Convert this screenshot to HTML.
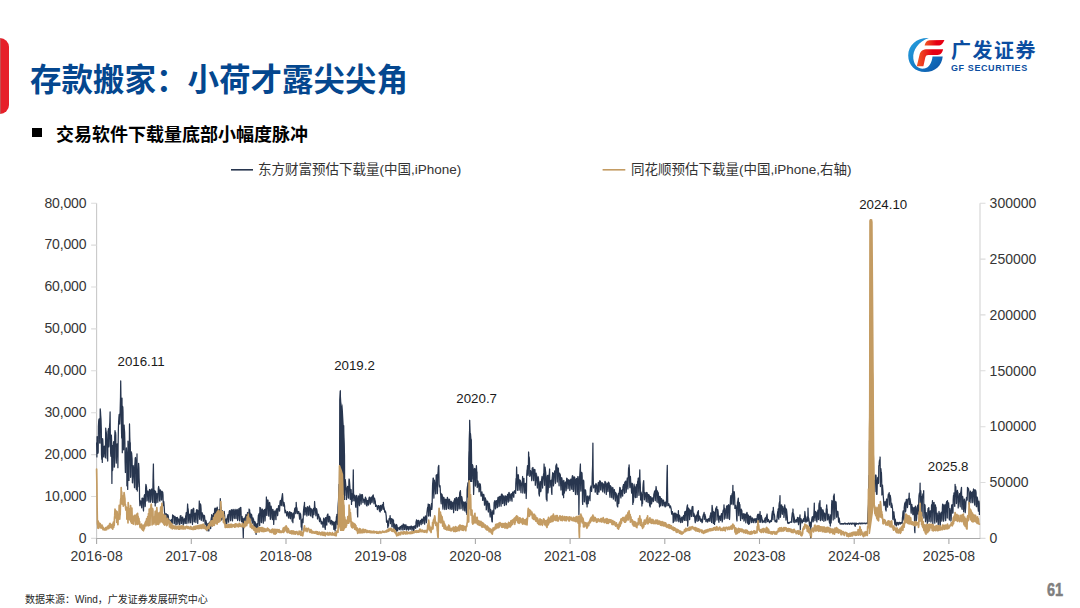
<!DOCTYPE html>
<html lang="zh"><head><meta charset="utf-8"><title>存款搬家</title>
<style>
html,body{margin:0;padding:0;background:#fff;overflow:hidden}
html{width:1080px;height:608px}
body{width:1080px;height:608px;position:relative;overflow:hidden;font-family:"Liberation Sans","Noto Sans CJK SC",sans-serif;color:#363636}
#tab{position:absolute;left:0;top:38.2px;width:8.9px;height:76.2px;background:linear-gradient(90deg,#C84E50 0,#C84E50 0.6px,#E6202A 1.2px);border-radius:0 9px 9px 0}
#bul{position:absolute;left:32.2px;top:128.2px;width:9.6px;height:9.2px;background:#000}
svg{position:absolute;left:0;top:0}
.yl,.yr,.xl,.an,.h{position:absolute;white-space:nowrap;line-height:18px;height:18px}
.yl{left:0;width:86.4px;text-align:right;font-size:14px;letter-spacing:-0.15px}
.yr{left:989.6px;font-size:14px}
.xl{top:547px;width:80px;text-align:center;font-size:14px;letter-spacing:0.15px;text-indent:0.15px}
.an{font-size:13.3px;color:#1a1a1a}
.h{font-family:"Liberation Sans","Noto Sans CJK SC",sans-serif}
#pg{position:absolute;left:1035px;width:40px;text-align:center;top:579.7px;font-size:17.5px;line-height:20px;font-weight:bold;color:#7F7F7F;-webkit-text-stroke:0.5px #7F7F7F;transform:scaleX(0.83)}
</style></head>
<body>
<div id="tab"></div>
<div class="h" style="left:30px;top:62px;font-size:31.5px;line-height:36px;height:36px;font-weight:bold;color:#04478F">存款搬家：小荷才露尖尖角</div>
<div id="bul"></div>
<div class="h" style="left:56px;top:125.5px;font-size:18px;font-weight:bold;color:#000">交易软件下载量底部小幅度脉冲</div>
<div class="h" style="left:258px;top:161px;font-size:13.5px;color:#333">东方财富预估下载量(中国,iPhone)</div>
<div class="h" style="left:631px;top:161px;font-size:13.5px;color:#333">同花顺预估下载量(中国,iPhone,右轴)</div>
<div class="h" style="left:25px;top:593px;font-size:10px;line-height:14px;height:14px;color:#262626">数据来源：Wind，广发证券发展研究中心</div>
<div class="h" style="left:951px;top:39.3px;font-size:20px;line-height:24px;height:24px;letter-spacing:1.5px;font-weight:bold;color:#0B4DA0">广发证券</div>
<svg width="1080" height="608" viewBox="0 0 1080 608">

<defs>
<linearGradient id="gb" x1="0" y1="0" x2="1" y2="1"><stop offset="0" stop-color="#2AA3E0"/><stop offset="0.55" stop-color="#1479C4"/><stop offset="1" stop-color="#0B4FA3"/></linearGradient>
<linearGradient id="gr" x1="0" y1="0" x2="1" y2="0"><stop offset="0" stop-color="#F15A24"/><stop offset="0.6" stop-color="#E60012"/><stop offset="1" stop-color="#E60012"/></linearGradient>
</defs>
<path fill="url(#gb)" d="M928.8,38 C917,37.5 908.2,45 908.2,55.5 C908.2,65.5 915.5,72 925,72 C935,72 942,65.5 942.7,56.4 L932.5,56.4 C932,62.5 929,67.5 924.5,68.6 C919,69.5 914.2,66 913.3,58.5 C912.5,50 918.5,41.5 928.8,38 Z"/>
<path fill="url(#gr)" d="M929.5,40.2 L944.4,39.9 C943,43 941.5,45.6 938,45.6 L924.6,45.6 C925,43 926.5,40.5 929.5,40.2 Z"/>
<path fill="url(#gr)" d="M927.5,49.3 L943.1,49.3 C942.3,52.5 941,55 937.5,55 L928.5,55 C926.5,55 925.8,55.8 925.3,57.5 L923.4,66.2 L916.8,66.2 L919.6,54.5 C920.5,51 923,49.3 927.5,49.3 Z"/>

<path d="M231,169.8H253" stroke="#28364F" stroke-width="1.6" fill="none"/>
<path d="M602.6,169.8H625.3" stroke="#C49C63" stroke-width="1.6" fill="none"/>
<path d="M96.6,203.2V538.4" fill="none" stroke="#C9C9C9" stroke-width="1.1"/>
<path d="M980,203.2V538.4" fill="none" stroke="#DADADA" stroke-width="1.3"/>
<path d="M91.1,203.2H96.6M91.1,245.1H96.6M91.1,287.0H96.6M91.1,328.9H96.6M91.1,370.8H96.6M91.1,412.7H96.6M91.1,454.6H96.6M91.1,496.5H96.6M91.1,538.4H96.6M980,203.2H985.5M980,259.1H985.5M980,314.9H985.5M980,370.8H985.5M980,426.7H985.5M980,482.5H985.5M980,538.4H985.5" fill="none" stroke="#DCDCDC" stroke-width="1.1"/>
<path d="M96.1,538.5H980.3M96.6,538.4V543.9M191.3,538.4V543.9M286.0,538.4V543.9M380.7,538.4V543.9M475.4,538.4V543.9M570.1,538.4V543.9M664.8,538.4V543.9M759.5,538.4V543.9M854.2,538.4V543.9M948.9,538.4V543.9" fill="none" stroke="#A9A9A9" stroke-width="1.1"/>
<path d="M339,500L339.2,400L339.9,391L340.3,389.8L340.8,392L341.3,402L341.9,406L342.4,403.4L342.9,410L343.6,422.8L344.4,442.5L345,480L345.3,500Z" fill="#28364F"/>
<path d="M468.3,482L468.7,440L469.3,421L469.6,419.3L470,422L470.6,434L471.3,439.5L472,465L472.4,482Z" fill="#28364F"/>
<path d="M96.6,442.8 96.9,456.9 97.1,436.7 97.4,437 97.6,438.6 97.9,453.3 98.2,452 98.4,426.9 98.7,421 98.9,419.5 99.2,418.9 99.5,418.7 99.7,443 100,443.2 100.2,408.9 100.5,411.7 100.7,415.6 101,419.2 101.3,429 101.5,454.5 101.8,459.3 102,443.8 102.3,462.4 102.6,438.6 102.8,440.1 103.1,446.5 103.3,454.6 103.6,456.8 103.9,452.4 104.1,448.2 104.4,446.2 104.6,447.4 104.9,448.6 105.2,457.1 105.4,457.8 105.7,428.1 105.9,430.7 106.2,431.9 106.5,434 106.7,440.7 107,455.8 107.2,458.6 107.5,440.1 107.7,461.1 108,431 108.3,430.2 108.5,428.7 108.8,446.8 109,445.7 109.3,430.8 109.6,424.8 109.8,422.4 110.1,411.9 110.3,431.1 110.6,452.6 110.9,456.3 111.1,438.1 111.4,435.2 111.6,440.8 111.9,483.4 112.2,445.4 112.4,470.8 112.7,469.9 112.9,452.3 113.2,447.6 113.5,442.6 113.7,441.7 114,446.1 114.2,467.2 114.5,466.3 114.7,437 115,430.6 115.3,434.4 115.5,432.1 115.8,435.1 116,457.9 116.3,463.1 116.6,451.4 116.8,445.9 117.1,443.8 117.3,446.7 117.6,449.3 117.9,467.7 118.1,446.3 118.4,428.3 118.6,422.5 118.9,417.3 119.2,414.4 119.4,416.6 119.7,424 119.9,419.1 120.2,408.5 120.5,397.3 120.7,380.9 121,401.2 121.2,410 121.5,431 121.7,438 122,398 122.3,452.7 122.5,406.2 122.8,407.1 123,411.6 123.3,445.8 123.6,449.8 123.8,425.7 124.1,425.1 124.3,428.5 124.6,432.1 124.9,442.2 125.1,462.1 125.4,472.5 125.6,452.5 125.9,452.5 126.2,453.8 126.4,447.8 126.7,452.8 126.9,485.8 127.2,484.8 127.5,459.5 127.7,489.4 128,441.1 128.2,448.8 128.5,447.9 128.8,471.6 129,480.4 129.3,450.6 129.5,423.9 129.8,437.6 130,442.3 130.3,442.9 130.6,477.3 130.8,475.9 131.1,451.5 131.3,453.4 131.6,452.9 131.9,456.5 132.1,459 132.4,482.7 132.6,482.9 132.9,469.5 133.2,465.7 133.4,467.2 133.7,469.1 133.9,475.3 134.2,480.9 134.5,487.7 134.7,466.1 135,462.2 135.2,458.3 135.5,457.5 135.8,461.9 136,484.6 136.3,489.3 136.5,472.1 136.8,469.3 137,453.9 137.3,491.1 137.6,473.8 137.8,486.7 138.1,480.5 138.3,471.9 138.6,463.3 138.9,467.8 139.1,478.1 139.4,485 139.6,499.9 139.9,505.6 140.2,502.8 140.4,502.4 140.7,500.9 140.9,502.1 141.2,502.8 141.5,506 141.7,507.8 142,498.3 142.2,498.2 142.5,498.1 142.8,498.4 143,500.2 143.3,509.2 143.5,511 143.8,500.6 144,498.3 144.3,495.6 144.6,494.6 144.8,497.3 145.1,506.7 145.3,505.7 145.6,489.2 145.9,484.3 146.1,485 146.4,486.6 146.6,488.4 146.9,501 147.2,500.3 147.4,493.8 147.7,491.4 147.9,491 148.2,492.5 148.5,494 148.7,500.5 149,502.2 149.2,492.8 149.5,489.5 149.8,489.7 150,490.9 150.3,490.5 150.5,502.1 150.8,499.6 151,492.8 151.3,489.3 151.6,490.3 151.8,489 152.1,491.4 152.3,499.5 152.6,502.4 152.9,486.7 153.1,476.4 153.4,464 153.6,478.7 153.9,489.3 154.2,502.5 154.4,501.1 154.7,493.6 154.9,490.5 155.2,506 155.5,491.3 155.7,492.1 156,502 156.2,502.8 156.5,494.6 156.8,493.6 157,494.5 157.3,494.4 157.5,493.8 157.8,502.3 158,498.9 158.3,488.8 158.6,486.5 158.8,487.8 159.1,489.1 159.3,490.4 159.6,500.7 159.9,501.2 160.1,492.1 160.4,489.9 160.6,490.5 160.9,491 161.2,491.2 161.4,499.7 161.7,500.1 161.9,494 162.2,491.3 162.5,493.3 162.7,492 163,494.8 163.2,503.8 163.5,505.7 163.8,501.5 164,504.3 164.3,508.1 164.5,512 164.8,513.6 165,516.9 165.3,517.2 165.6,514.5 165.8,513.8 166.1,514.3 166.3,513.8 166.6,514.8 166.9,518.2 167.1,519.9 167.4,514.8 167.6,514.6 167.9,514.9 168.2,515.7 168.4,516.9 168.7,521.5 168.9,521.8 169.2,520 169.5,520.3 169.7,520.2 170,521 170.2,521.3 170.5,523.2 170.8,523.8 171,521.6 171.3,519.5 171.5,519.9 171.8,520.4 172,519.6 172.3,523.5 172.6,514.8 172.8,516.8 173.1,515.5 173.3,515.9 173.6,515.7 173.9,517.7 174.1,523.8 174.4,523.2 174.6,517.4 174.9,516.3 175.2,517.4 175.4,517.5 175.7,517.3 175.9,525 176.2,524.8 176.5,518.8 176.7,517.7 177,517.6 177.2,517.4 177.5,517.5 177.8,524.2 178,522.7 178.3,520.7 178.5,519 178.8,520.2 179,519.2 179.3,520.6 179.6,524.7 179.8,524.3 180.1,517.7 180.3,515.8 180.6,516.9 180.9,515.6 181.1,518 181.4,523.5 181.6,523.3 181.9,517.8 182.2,517.7 182.4,517.3 182.7,517.1 182.9,519.5 183.2,525.2 183.5,523.2 183.7,519.1 184,519.3 184.2,518.7 184.5,519.3 184.8,519.9 185,523.5 185.3,523.4 185.5,517.4 185.8,515.5 186,514.4 186.3,512.5 186.6,513.6 186.8,523.6 187.1,521.8 187.3,511.1 187.6,504 187.9,509.1 188.1,508.5 188.4,511.4 188.6,520.1 188.9,523 189.2,516.7 189.4,515 189.7,514.3 189.9,514.1 190.2,516.8 190.5,522.2 190.7,522.8 191,513 191.2,509.8 191.5,510.3 191.8,509.7 192,513.1 192.3,520.6 192.5,524.4 192.8,511.9 193.1,508.6 193.3,508.8 193.6,508.2 193.8,509.4 194.1,521.6 194.3,522 194.6,517.8 194.9,513.4 195.1,514.1 195.4,513.2 195.6,515.3 195.9,522.5 196.2,518.9 196.4,510.2 196.7,509.7 196.9,510.5 197.2,509.8 197.5,510.6 197.7,523.5 198,518.4 198.2,514.8 198.5,510.7 198.8,510.2 199,511.4 199.3,501 199.5,517.6 199.8,519.3 200.1,507.1 200.3,503.9 200.6,504.5 200.8,505.2 201.1,509.2 201.3,520.5 201.6,517.8 201.9,512.8 202.1,512.7 202.4,514.2 202.6,514.1 202.9,516.9 203.2,521.3 203.4,520.9 203.7,515.6 203.9,515.2 204.2,515.4 204.5,515.8 204.7,517.5 205,523.1 205.2,524.9 205.5,520.4 205.8,520.3 206,520.9 206.3,522.5 206.5,523.1 206.8,529.8 207.1,530.8 207.3,524.5 207.6,524.7 207.8,524.4 208.1,523.3 208.3,524.1 208.6,530 208.9,531 209.1,525.4 209.4,522.5 209.6,523.9 209.9,521.9 210.2,523.7 210.4,528 210.7,528.6 210.9,520.5 211.2,518.5 211.5,516.9 211.7,514.6 212,517.4 212.2,525.9 212.5,522.5 212.8,517.1 213,515.6 213.3,515.2 213.5,513.4 213.8,515 214.1,521.7 214.3,521.1 214.6,509.2 214.8,508.6 215.1,508.1 215.3,508.1 215.6,509.2 215.9,516.9 216.1,519.3 216.4,508.7 216.6,508.1 216.9,508.7 217.2,507.2 217.4,508.1 217.7,518.1 217.9,517.5 218.2,513.1 218.5,510.1 218.7,510.7 219,509.6 219.2,509.8 219.5,516.9 219.8,515.1 220,507.8 220.3,498.6 220.5,503.2 220.8,507.1 221.1,507.2 221.3,514.9 221.6,520 221.8,513.1 222.1,513 222.3,510.7 222.6,512.8 222.9,514.6 223.1,519.2 223.4,519.7 223.6,512.8 223.9,512.7 224.2,511.3 224.4,513.4 224.7,515.9 224.9,521.9 225.2,523.2 225.5,519.6 225.7,520.2 226,524.4 226.2,518.9 226.5,520.5 226.8,523.4 227,521.5 227.3,518.1 227.5,516.6 227.8,515.4 228.1,514.5 228.3,515.5 228.6,522.2 228.8,520 229.1,512.3 229.3,511 229.6,510.6 229.9,510.7 230.1,511.3 230.4,519.3 230.6,520.7 230.9,511.3 231.2,511.1 231.4,509.6 231.7,510.8 231.9,512.3 232.2,519.3 232.5,520.9 232.7,510.8 233,509.4 233.2,509.4 233.5,511 233.8,512 234,517.9 234.3,518.5 234.5,512.6 234.8,510 235.1,509.3 235.3,510.5 235.6,510.8 235.8,518.2 236.1,518.5 236.3,510.9 236.6,510 236.9,509.8 237.1,509.3 237.4,510.1 237.6,520.5 237.9,519 238.2,512.2 238.4,510.4 238.7,509.4 238.9,508.6 239.2,511.9 239.5,520.8 239.7,519.9 240,508.7 240.2,507.7 240.5,508.4 240.8,507.3 241,511.4 241.3,520.1 241.5,521.6 241.8,517 242.1,516.5 242.3,518.2 242.6,518.8 242.8,523.2 243.1,531.4 243.3,537.7 243.6,521.1 243.9,518.4 244.1,519 244.4,518.2 244.6,518.8 244.9,522.5 245.2,520.6 245.4,516.8 245.7,516.5 245.9,514.6 246.2,514.9 246.5,515.9 246.7,519.1 247,522.1 247.2,514.8 247.5,512.5 247.8,513.3 248,513.5 248.3,514.6 248.5,521.1 248.8,518.4 249.1,509 249.3,510.5 249.6,509.8 249.8,511.9 250.1,513.4 250.3,521.3 250.6,521 250.9,514.1 251.1,515.2 251.4,514.3 251.6,514.8 251.9,516.1 252.2,523.3 252.4,523.1 252.7,519.4 252.9,517.8 253.2,518.5 253.5,519 253.7,520.9 254,528 254.2,529.4 254.5,522.5 254.8,521.3 255,521.9 255.3,522.6 255.5,523.8 255.8,532.2 256.1,534.4 256.3,527.2 256.6,526.8 256.8,524.1 257.1,523.6 257.4,523.9 257.6,528.7 257.9,528.8 258.1,519.2 258.4,515.2 258.6,515.3 258.9,514.3 259.2,513.5 259.4,523.7 259.7,525.6 259.9,507.3 260.2,509.5 260.5,507.9 260.7,508.1 261,512.9 261.2,522.3 261.5,522.6 261.8,512.6 262,510 262.3,509.1 262.5,509.3 262.8,512.7 263.1,521.3 263.3,523.2 263.6,513.9 263.8,510.5 264.1,512.1 264.4,510.3 264.6,509.5 264.9,521.1 265.1,520.3 265.4,514 265.6,508.8 265.9,508.9 266.2,505.9 266.4,497 266.7,515.4 266.9,515.5 267.2,502.7 267.5,500 267.7,501.3 268,500.1 268.2,504.4 268.5,514.1 268.8,516.2 269,506.1 269.3,503.1 269.5,502.3 269.8,503.3 270.1,506.2 270.3,519.3 270.6,517.4 270.8,510.8 271.1,506.1 271.4,508.1 271.6,509.3 271.9,511.5 272.1,518.2 272.4,519.6 272.6,512.5 272.9,509.3 273.2,512 273.4,511.1 273.7,524.4 273.9,519.5 274.2,519.8 274.5,511.7 274.7,511.8 275,510.8 275.2,512 275.5,511.8 275.8,519.3 276,519.7 276.3,509.6 276.5,509.2 276.8,508.7 277.1,508.8 277.3,511 277.6,515.6 277.8,514.3 278.1,508.4 278.4,507.9 278.6,505.6 278.9,506 279.1,506.8 279.4,511.1 279.6,510.9 279.9,503.4 280.2,500.9 280.4,500.8 280.7,500.3 280.9,500.3 281.2,505.7 281.5,505 281.7,498.5 282,497 282.2,495.5 282.5,493.6 282.8,497.8 283,505.7 283.3,506.2 283.5,502.1 283.8,502.6 284.1,502.7 284.3,504.5 284.6,505.9 284.8,510.7 285.1,512.8 285.4,510 285.6,510.8 285.9,511.9 286.1,512.1 286.4,512.7 286.6,515.2 286.9,516.1 287.2,513 287.4,511.6 287.7,511.8 287.9,512.7 288.2,513.3 288.5,517.9 288.7,518.1 289,513.2 289.2,512.3 289.5,512.3 289.8,511.6 290,514.5 290.3,518.7 290.5,518.8 290.8,512.7 291.1,513.6 291.3,514 291.6,512.7 291.8,514.2 292.1,521.1 292.4,519.9 292.6,516.7 292.9,522.7 293.1,513.3 293.4,513.2 293.6,513.2 293.9,518.2 294.2,517.1 294.4,511.1 294.7,508.8 294.9,508.1 295.2,508.4 295.5,507.7 295.7,513.7 296,512.7 296.2,502.3 296.5,507.6 296.8,507.6 297,508.7 297.3,511.5 297.5,513.7 297.8,513.3 298.1,512.3 298.3,511.8 298.6,511.6 298.8,511.5 299.1,514.6 299.4,517 299.6,519.1 299.9,513.9 300.1,513.2 300.4,514 300.6,514.1 300.9,517.1 301.2,527.1 301.4,526.7 301.7,525.7 301.9,530.2 302.2,520.2 302.5,519.1 302.7,518.8 303,522.7 303.2,518.5 303.5,511 303.8,508 304,506.4 304.3,505.2 304.5,502.3 304.8,514.9 305.1,514.8 305.3,508.1 305.6,508.9 305.8,507.6 306.1,508.8 306.4,510.4 306.6,513.5 306.9,515.9 307.1,508.3 307.4,506.7 307.6,507.3 307.9,507.8 308.2,508.6 308.4,514.7 308.7,515.3 308.9,507.4 309.2,507 309.5,505.9 309.7,506.9 310,508.2 310.2,514.4 310.5,515.8 310.8,508.6 311,508.7 311.3,509 311.5,509.1 311.8,509.5 312.1,516.5 312.3,516.8 312.6,511.6 312.8,517.7 313.1,510 313.4,508.7 313.6,508.5 313.9,514.7 314.1,513.2 314.4,506.7 314.6,501.5 314.9,506.9 315.2,507.3 315.4,509.8 315.7,513.1 315.9,515.8 316.2,509.8 316.5,508.6 316.7,509.3 317,510.9 317.2,512.5 317.5,519 317.8,517.8 318,515.7 318.3,514.2 318.5,514.3 318.8,516 319.1,516.4 319.3,520.3 319.6,521.7 319.8,518.2 320.1,517.9 320.4,518.9 320.6,519.7 320.9,520.8 321.1,523.3 321.4,524 321.7,522.7 321.9,521.7 322.2,521.9 322.4,522.5 322.7,523.2 322.9,527.2 323.2,527.2 323.5,519.6 323.7,518.2 324,518.6 324.2,518.7 324.5,520.4 324.8,527.8 325,525.9 325.3,529.4 325.5,517.7 325.8,518.1 326.1,517.7 326.3,518 326.6,524.8 326.8,525 327.1,515.9 327.4,514.9 327.6,514.4 327.9,514 328.1,516.1 328.4,521.8 328.7,522 328.9,517.4 329.2,516.7 329.4,516.3 329.7,516.9 329.9,517.3 330.2,523.2 330.5,524 330.7,521.5 331,521.2 331.2,521 331.5,520.3 331.8,522 332,525 332.3,524.6 332.5,521.5 332.8,521.3 333.1,521.7 333.3,522.7 333.6,523.5 333.8,529.3 334.1,527.1 334.4,522.4 334.6,522.8 334.9,522.7 335.1,531 335.4,521.4 335.7,528.4 335.9,528.1 336.2,520.6 336.4,517 336.7,515.9 336.9,514.4 337.2,517.9 337.5,524.6 337.7,523.3 338,507.6 338.2,504.1 338.5,500.4 338.8,493.5 339,484.3 339.3,490.8 339.5,482.2 339.8,441.4 340.1,421.5 340.3,390.8 340.6,418.2 340.8,428.7 341.1,474.8 341.4,479 341.6,422 341.9,420.9 342.1,422.3 342.4,422.4 342.7,434.2 342.9,470.3 343.2,480 343.4,430.6 343.7,425.6 343.9,437.7 344.2,445.3 344.5,455.7 344.7,495.4 345,490 345.2,479.3 345.5,482.1 345.8,485.8 346,489 346.3,488.9 346.5,499.5 346.8,496.9 347.1,488.3 347.3,487.8 347.6,486.4 347.8,487.4 348.1,487.9 348.4,498 348.6,498.1 348.9,481 349.1,479 349.4,480.2 349.7,484.1 349.9,486.6 350.2,499.3 350.4,498.7 350.7,490.7 350.9,489.3 351.2,490.2 351.5,504.4 351.7,493.6 352,501.6 352.2,501.1 352.5,496.6 352.8,494.4 353,488 353.3,469.8 353.5,490.8 353.8,500.5 354.1,500.9 354.3,495.5 354.6,495.2 354.8,495.3 355.1,497.1 355.4,497 355.6,506 355.9,507.3 356.1,497.8 356.4,495.7 356.7,495.4 356.9,497.5 357.2,496.9 357.4,512.6 357.7,516.9 357.9,500 358.2,498.6 358.5,498.9 358.7,495.9 359,498.6 359.2,505.1 359.5,505.8 359.8,497.5 360,494 360.3,495.1 360.5,495.4 360.8,496.6 361.1,504.2 361.3,501.5 361.6,494.8 361.8,494.7 362.1,494.5 362.4,494.5 362.6,496.6 362.9,502.7 363.1,502.7 363.4,499.2 363.7,499.9 363.9,499.4 364.2,499.7 364.4,499.7 364.7,502.6 364.9,504.1 365.2,498.5 365.5,497.2 365.7,498.3 366,498.5 366.2,498.8 366.5,505.4 366.8,504.9 367,506 367.3,501.1 367.5,500.5 367.8,500.8 368.1,502.6 368.3,504.2 368.6,505.1 368.8,499.6 369.1,497.7 369.4,497.1 369.6,497.4 369.9,499.1 370.1,503.1 370.4,504.1 370.7,498.3 370.9,497.7 371.2,497.4 371.4,497 371.7,498.2 371.9,502.7 372.2,501.9 372.5,497.1 372.7,495.8 373,495.5 373.2,494.8 373.5,497.2 373.8,501.4 374,503.8 374.3,498.2 374.5,498.2 374.8,499.6 375.1,500.6 375.3,501.4 375.6,506.4 375.8,506.4 376.1,505.3 376.4,505.2 376.6,505.8 376.9,506 377.1,506.9 377.4,509.7 377.7,508.5 377.9,506.4 378.2,505.6 378.4,506.1 378.7,505.6 378.9,507.2 379.2,509.5 379.5,511.2 379.7,506.4 380,506.7 380.2,511.9 380.5,505.3 380.8,507 381,509.3 381.3,510.4 381.5,506.2 381.8,506 382.1,505.3 382.3,504.6 382.6,505.6 382.8,508.6 383.1,509.5 383.4,502.3 383.6,505.9 383.9,507.3 384.1,508 384.4,509.4 384.7,511.8 384.9,512.3 385.2,510.8 385.4,511.7 385.7,512 386,514.6 386.2,515.8 386.5,521.7 386.7,522.3 387,520.1 387.2,521.1 387.5,521.2 387.8,527.7 388,521.4 388.3,525.8 388.5,526.1 388.8,521 389.1,518.7 389.3,519.7 389.6,518.7 389.8,519.3 390.1,515.6 390.4,523.6 390.6,518.8 390.9,518.5 391.1,519.9 391.4,518.7 391.7,519.8 391.9,526.8 392.2,526.9 392.4,519.3 392.7,519.2 393,519.6 393.2,519.7 393.5,520.3 393.7,526.7 394,528.9 394.2,524.1 394.5,524.3 394.8,524.2 395,525 395.3,526.5 395.5,530.5 395.8,531.8 396.1,532.7 396.3,525 396.6,524.5 396.8,525.5 397.1,525.7 397.4,530.8 397.6,530.6 397.9,528.3 398.1,527.9 398.4,527.8 398.7,528.2 398.9,527.8 399.2,528.9 399.4,529.7 399.7,527.3 400,527.1 400.2,526.7 400.5,526.5 400.7,527 401,529.9 401.2,528.7 401.5,525.9 401.8,525.7 402,525.3 402.3,525.4 402.5,525.5 402.8,529.9 403.1,529.9 403.3,524 403.6,524.7 403.8,524.5 404.1,524.6 404.4,525.2 404.6,529.5 404.9,529.3 405.1,525.7 405.4,525.3 405.7,525 405.9,524.8 406.2,526.2 406.4,530 406.7,529.9 407,527.6 407.2,526.6 407.5,526.4 407.7,527 408,527.4 408.2,529 408.5,530.1 408.8,526.7 409,526.9 409.3,527 409.5,526.7 409.8,527.4 410.1,529.3 410.3,529.3 410.6,526.5 410.8,526.4 411.1,526.1 411.4,526.2 411.6,527.3 411.9,530.1 412.1,530.1 412.4,526.8 412.7,527 412.9,526.9 413.2,526.4 413.4,527.5 413.7,531 414,529.9 414.2,527.1 414.5,526.1 414.7,526.4 415,525.6 415.2,525.8 415.5,528.3 415.8,528.2 416,522.2 416.3,520.9 416.5,519.8 416.8,520.5 417.1,520.5 417.3,527.1 417.6,525.3 417.8,521.1 418.1,520.7 418.4,520.4 418.6,520.4 418.9,522.3 419.1,526.3 419.4,525 419.7,521.6 419.9,521.7 420.2,521.2 420.4,520.4 420.7,521.2 421,524.5 421.2,524.7 421.5,520.1 421.7,519.1 422,519.1 422.2,519.5 422.5,520 422.8,523.6 423,522.7 423.3,518.6 423.5,517.9 423.8,517 424.1,517.2 424.3,517.9 424.6,524.1 424.8,522 425.1,518 425.4,516 425.6,516.6 425.9,516.2 426.1,516.9 426.4,522.7 426.7,519.4 426.9,513.1 427.2,510.5 427.4,508.9 427.7,507.1 428,507.7 428.2,504 428.5,516.1 428.7,506.7 429,505.2 429.2,504.6 429.5,504.7 429.8,507.6 430,515.4 430.3,516.2 430.5,510.2 430.8,509.3 431.1,507.5 431.3,504.8 431.6,503.4 431.8,509.4 432.1,506.4 432.4,492.1 432.6,484.2 432.9,481.1 433.1,478 433.4,478 433.7,494.7 433.9,498.1 434.2,487.5 434.4,480.1 434.7,482.5 435,483.2 435.2,482.9 435.5,491.4 435.7,493.9 436,482.2 436.2,475.1 436.5,478.3 436.8,474.6 437,478.1 437.3,493.6 437.5,490.8 437.8,474.2 438.1,471.5 438.3,466.9 438.6,466.1 438.8,465.3 439.1,484.6 439.4,486.8 439.6,485.7 439.9,485.5 440.1,486.3 440.4,491.9 440.7,495.1 440.9,501.3 441.2,503.8 441.4,493.8 441.7,494.6 442,494.5 442.2,495.3 442.5,496.8 442.7,506.1 443,509.1 443.2,499.7 443.5,497.3 443.8,499.3 444,497.5 444.3,499.8 444.5,507.2 444.8,509.5 445.1,502.1 445.3,499.7 445.6,499.2 445.8,500 446.1,502.4 446.4,509.3 446.6,508.2 446.9,499.4 447.1,499.3 447.4,497.3 447.7,499.2 447.9,498.5 448.2,507.1 448.4,508.7 448.7,501.5 449,499.8 449.2,499.6 449.5,499.3 449.7,501.7 450,509.2 450.3,508.6 450.5,504.2 450.8,502.1 451,501.2 451.3,501.4 451.5,505.6 451.8,509.4 452.1,509 452.3,503.8 452.6,502.7 452.8,502.3 453.1,502.2 453.4,503.9 453.6,512.7 453.9,508.2 454.1,500.3 454.4,500.6 454.7,498.7 454.9,499.9 455.2,500.2 455.4,509.3 455.7,510.4 456,498.2 456.2,497.5 456.5,497.7 456.7,497.6 457,499.2 457.3,509.1 457.5,510.5 457.8,502.4 458,499.3 458.3,498.8 458.5,497.3 458.8,498.4 459.1,508.9 459.3,507.8 459.6,494.5 459.8,492.2 460.1,491.8 460.4,490.6 460.6,494.3 460.9,508.8 461.1,508.3 461.4,498.2 461.7,496.7 461.9,497.4 462.2,499.6 462.4,501.2 462.7,507.3 463,510.2 463.2,504.1 463.5,502.7 463.7,501.8 464,503.5 464.3,502.6 464.5,508.9 464.8,510.9 465,503.8 465.3,501.9 465.5,502.8 465.8,503.4 466.1,505.4 466.3,512.5 466.6,510.7 466.8,514.4 467.1,489.9 467.4,486.7 467.6,486.4 467.9,482.9 468.1,497.1 468.4,494 468.7,476.5 468.9,458.8 469.2,451.8 469.4,451 469.7,420.3 470,471.8 470.2,467.4 470.5,433.7 470.7,436.3 471,442.4 471.3,439.6 471.5,454.1 471.8,479.2 472,478.9 472.3,464.6 472.5,465 472.8,465.8 473.1,468.9 473.3,473.6 473.6,494.4 473.8,489.9 474.1,474.8 474.4,468.9 474.6,468.5 474.9,468.8 475.1,471.8 475.4,486.1 475.7,484.7 475.9,473.1 476.2,469 476.4,465.6 476.7,471.6 477,471.9 477.2,487.6 477.5,486.9 477.7,482.7 478,481 478.3,483.5 478.5,485 478.8,486.2 479,491.8 479.3,491.5 479.5,486.3 479.8,483.3 480.1,485.8 480.3,484.4 480.6,487.4 480.8,494.3 481.1,496.2 481.4,493.2 481.6,492.7 481.9,491.9 482.1,493.2 482.4,495.2 482.7,500.4 482.9,500.4 483.2,496.2 483.4,494.6 483.7,494.3 484,495.7 484.2,497.6 484.5,505.1 484.7,505.2 485,499.2 485.3,497.9 485.5,499.6 485.8,499.2 486,502.3 486.3,509.9 486.5,508.8 486.8,501.2 487.1,501.5 487.3,501.3 487.6,501.2 487.8,502.2 488.1,510.7 488.4,512 488.6,503.9 488.9,503.1 489.1,503.1 489.4,504 489.7,507.1 489.9,514.5 490.2,517 490.4,509.4 490.7,509.8 491,510.7 491.2,511.7 491.5,513.7 491.7,519.5 492,521.7 492.3,521.9 492.5,512.9 492.8,510.9 493,510.5 493.3,510.1 493.5,513.4 493.8,514.2 494.1,503.2 494.3,501.8 494.6,502.1 494.8,500.7 495.1,501.8 495.4,508.8 495.6,508.5 495.9,502 496.1,500.9 496.4,501.5 496.7,500.7 496.9,501.4 497.2,507.7 497.4,507.2 497.7,499.5 498,497.3 498.2,497.4 498.5,497.2 498.7,498.1 499,506.7 499.3,505.5 499.5,496.8 499.8,496.4 500,497.1 500.3,497 500.5,496.3 500.8,503.6 501.1,506.2 501.3,495.2 501.6,494 501.8,494 502.1,494.2 502.4,495.1 502.6,503.6 502.9,503.1 503.1,497 503.4,496.1 503.7,495.9 503.9,498 504.2,498.3 504.4,505.5 504.7,504.2 505,497.7 505.2,495.9 505.5,496 505.7,496.2 506,496.6 506.3,504.9 506.5,503.8 506.8,496.7 507,496.5 507.3,495.9 507.6,494.4 507.8,497.1 508.1,501.8 508.3,502.2 508.6,495.4 508.8,492.7 509.1,492.4 509.4,494 509.6,494.2 509.9,501 510.1,500.5 510.4,497 510.7,494.7 510.9,494.6 511.2,493.7 511.4,496.6 511.7,499.4 512,501.2 512.2,495 512.5,493.1 512.7,492.2 513,491.9 513.3,493.9 513.5,496.3 513.8,497.3 514,493.7 514.3,491.2 514.6,490.8 514.8,490.8 515.1,490.5 515.3,492.1 515.6,493.4 515.8,483.3 516.1,478.4 516.4,478.2 516.6,467 516.9,476.7 517.1,485.1 517.4,490.3 517.7,475.2 517.9,474.8 518.2,474.7 518.4,475.4 518.7,479.8 519,490.3 519.2,489.5 519.5,481.5 519.7,479.9 520,480.8 520.3,480.5 520.5,481.1 520.8,490.4 521,492.6 521.3,486.4 521.6,483.7 521.8,484.1 522.1,481.8 522.3,484.3 522.6,476.5 522.8,493.1 523.1,480.8 523.4,479.9 523.6,480.3 523.9,478.4 524.1,483 524.4,491.1 524.7,493.1 524.9,488.1 525.2,484.6 525.4,483.3 525.7,483.8 526,486.7 526.2,498.5 526.5,490.2 526.7,475.6 527,470.7 527.3,469 527.5,465.7 527.8,465.5 528,475.3 528.3,473.6 528.6,452 528.8,455.9 529.1,457.6 529.3,457.6 529.6,463.5 529.8,476.4 530.1,475.3 530.4,472.7 530.6,470.7 530.9,471.9 531.1,471.8 531.4,475.5 531.7,480.6 531.9,478.4 532.2,468.1 532.4,468.6 532.7,468.7 533,467.5 533.2,470.8 533.5,479.7 533.7,480.6 534,469.7 534.3,470.1 534.5,470.3 534.8,469.3 535,470.4 535.3,485.3 535.6,482.3 535.8,477 536.1,473.2 536.3,474.2 536.6,474.7 536.8,477.9 537.1,483.8 537.4,488 537.6,479.7 537.9,478.4 538.1,476.7 538.4,477.8 538.7,481.3 538.9,493.7 539.2,494.7 539.4,496 539.7,485.1 540,483.8 540.2,481.6 540.5,484.8 540.7,491.7 541,490.9 541.3,482 541.5,480.1 541.8,478.3 542,476.5 542.3,478.5 542.6,488.1 542.8,482.8 543.1,478.5 543.3,476.6 543.6,473.6 543.8,474.9 544.1,464 544.4,482.2 544.6,485.3 544.9,470.8 545.1,467.1 545.4,470 545.7,472.4 545.9,476 546.2,496.7 546.4,499.4 546.7,481.4 547,501 547.2,476.9 547.5,475.4 547.7,476.9 548,492.9 548.3,489.2 548.5,481.3 548.8,475.1 549,475.2 549.3,473.6 549.6,469 549.8,487.5 550.1,485.8 550.3,483.3 550.6,480.7 550.8,481.1 551.1,480.1 551.4,485.3 551.6,492.4 551.9,494.4 552.1,478.3 552.4,475.9 552.7,472.7 552.9,473.2 553.2,473.3 553.4,486 553.7,484.5 554,474.7 554.2,473.1 554.5,473.7 554.7,470.9 555,472.5 555.3,480.5 555.5,483.3 555.8,466.7 556,465.5 556.3,464.8 556.6,464 556.8,465.5 557.1,479.2 557.3,482 557.6,469.7 557.8,467.9 558.1,467.9 558.4,468.6 558.6,473.5 558.9,482.2 559.1,485.8 559.4,473.6 559.7,473.2 559.9,474.9 560.2,474.5 560.4,475.4 560.7,485.5 561,490 561.2,479.9 561.5,478.3 561.7,477.7 562,479 562.3,481.8 562.5,494.9 562.8,491.3 563,482.4 563.3,480.8 563.6,497.7 563.8,480.3 564.1,484.3 564.3,493.1 564.6,491.5 564.8,484.1 565.1,483.5 565.4,482 565.6,482.4 565.9,484.4 566.1,490.8 566.4,487.6 566.7,478.1 566.9,479.3 567.2,478.6 567.4,480.5 567.7,482.1 568,488.8 568.2,487.9 568.5,481.2 568.7,479.6 569,481 569.3,480.8 569.5,480.4 569.8,490.4 570,489.3 570.3,482.1 570.6,480.1 570.8,479 571.1,479 571.3,482.4 571.6,488.2 571.9,489.4 572.1,477.7 572.4,475.8 572.6,475.6 572.9,476.7 573.1,479.4 573.4,491.4 573.7,489 573.9,478.4 574.2,476.9 574.4,477.1 574.7,477.3 575,480.4 575.2,491 575.5,494.5 575.7,479.9 576,479.2 576.3,480.4 576.5,478.5 576.8,478.7 577,491.9 577.3,494.6 577.6,480.4 577.8,476.5 578.1,476.5 578.3,480.1 578.6,484.1 578.9,514.4 579.1,502.1 579.4,480.8 579.6,477 579.9,473.1 580.1,469.3 580.4,464 580.7,489.2 580.9,491.1 581.2,473.3 581.4,472.3 581.7,472.5 582,473.1 582.2,477.4 582.5,501.8 582.7,504.4 583,482.7 583.3,482.1 583.5,480.1 583.8,481.3 584,487.5 584.3,501.8 584.6,499.6 584.8,490.1 585.1,490.7 585.3,489.9 585.6,490.4 585.9,493.7 586.1,501.6 586.4,503.9 586.6,497 586.9,496.8 587.1,506.9 587.4,496 587.7,497.4 587.9,502.7 588.2,503.7 588.4,499 588.7,498.5 589,496.4 589.2,496 589.5,497.5 589.7,498.9 590,500.7 590.3,489.8 590.5,487.6 590.8,487.2 591,486 591.3,487.4 591.6,491.5 591.8,489.5 592.1,483.2 592.3,473.9 592.6,465.4 592.9,443.1 593.1,469.3 593.4,486.3 593.6,487.9 593.9,486.3 594.1,485.8 594.4,485.4 594.7,485.1 594.9,486.5 595.2,492.2 595.4,491.6 595.7,484.7 596,483.5 596.2,484.4 596.5,484.7 596.7,486 597,493.9 597.3,494.2 597.5,485.8 597.8,494.4 598,484.8 598.3,482.5 598.6,484.9 598.8,490.1 599.1,492 599.3,482.9 599.6,481.1 599.9,480.7 600.1,481.2 600.4,481.3 600.6,489.7 600.9,490.2 601.1,484.4 601.4,483.2 601.7,483.6 601.9,482.5 602.2,482.8 602.4,488.4 602.7,491.8 603,486.8 603.2,483.7 603.5,484.2 603.7,484.8 604,486.1 604.3,489.6 604.5,492.9 604.8,482.2 605,481.3 605.3,482.4 605.6,482.6 605.8,482.4 606.1,491.3 606.3,494.5 606.6,486.3 606.9,483.8 607.1,485.3 607.4,483.4 607.6,488.3 607.9,491.6 608.1,491.5 608.4,482.1 608.7,482.7 608.9,483 609.2,483.3 609.4,485.6 609.7,494.1 610,497.3 610.2,489.5 610.5,485.7 610.7,486.1 611,486.5 611.3,489.9 611.5,495.1 611.8,497.6 612,488 612.3,487.9 612.6,487.8 612.8,487.5 613.1,489 613.3,499.1 613.6,496.9 613.9,491 614.1,491.2 614.4,489.7 614.6,492 614.9,492.1 615.1,498.9 615.4,501 615.7,492.5 615.9,493 616.2,493.6 616.4,494.6 616.7,495.7 617,503.1 617.2,506 617.5,499.6 617.7,506.9 618,495.7 618.3,494 618.5,493.3 618.8,503.5 619,501.1 619.3,492.7 619.6,490 619.8,487.3 620.1,487.7 620.3,488.4 620.6,495.8 620.9,497.9 621.1,492.8 621.4,490.9 621.6,490.5 621.9,490.1 622.1,489.9 622.4,496.1 622.7,495.9 622.9,486.7 623.2,486.4 623.4,484.8 623.7,484.4 624,487.9 624.2,491.2 624.5,493.5 624.7,482.7 625,482 625.3,482.6 625.5,481.2 625.8,484.6 626,492.5 626.3,491.1 626.6,485 626.8,481.1 627.1,479.5 627.3,478 627.6,482.5 627.9,488.9 628.1,485.3 628.4,473.2 628.6,467.7 628.9,468.6 629.1,464.8 629.4,470 629.7,485 629.9,487.7 630.2,480.7 630.4,476.4 630.7,481.8 631,482.9 631.2,486 631.5,491.5 631.7,493.2 632,488.9 632.3,483.3 632.5,485.4 632.8,504.4 633,491.8 633.3,502.5 633.6,500.3 633.8,488.1 634.1,484.2 634.3,486 634.6,486.3 634.9,487.7 635.1,496.9 635.4,497.7 635.6,489.2 635.9,487 636.2,488.1 636.4,484.7 636.7,488 636.9,497.4 637.2,495.4 637.4,484.5 637.7,481.3 638,481 638.2,478.2 638.5,478.7 638.7,491.5 639,495.4 639.3,477.3 639.5,477.5 639.8,469.8 640,479.7 640.3,484 640.6,499.5 640.8,500.1 641.1,492.1 641.3,493.2 641.6,494.7 641.9,506 642.1,497.4 642.4,503.8 642.6,503.2 642.9,488.4 643.2,484.1 643.4,482.2 643.7,480.6 643.9,486.4 644.2,496.1 644.4,499.8 644.7,493 645,492.6 645.2,493.5 645.5,495.4 645.7,495.6 646,499.1 646.3,501.6 646.5,492.6 646.8,492.4 647,492.7 647.3,494.3 647.6,493.9 647.8,501.4 648.1,502.6 648.3,495.3 648.6,494.6 648.9,495.2 649.1,494.9 649.4,496 649.6,505.7 649.9,505.1 650.2,506.9 650.4,496.6 650.7,496.7 650.9,496.9 651.2,498.6 651.4,503.9 651.7,503.3 652,499.2 652.2,497.9 652.5,497.9 652.7,498.6 653,498.6 653.3,501.7 653.5,500.6 653.8,494.5 654,494 654.3,492.5 654.6,491 654.8,493.7 655.1,498.2 655.3,500.7 655.6,490.6 655.9,489 656.1,486.5 656.4,489.3 656.6,491.6 656.9,501.5 657.2,502.3 657.4,490.9 657.7,492.2 657.9,492.5 658.2,492.6 658.4,494.2 658.7,502.5 659,503.7 659.2,498.6 659.5,506.9 659.7,496.4 660,496.5 660.3,497.4 660.5,505.6 660.8,505.9 661,499.6 661.3,498.6 661.6,498.6 661.8,499.8 662.1,500.4 662.3,504.1 662.6,505.6 662.9,501.2 663.1,499.9 663.4,501.3 663.6,500.7 663.9,502.4 664.2,505.9 664.4,505.5 664.7,503 664.9,502.3 665.2,506.9 665.4,502 665.7,502 666,504.9 666.2,506 666.5,501.9 666.7,489.3 667,473.9 667.3,465.3 667.5,487.2 667.8,505.7 668,505.5 668.3,504.4 668.6,503.9 668.8,503.7 669.1,504.3 669.3,505.8 669.6,506.7 669.9,507.8 670.1,506.5 670.4,505.8 670.6,506.5 670.9,507.8 671.2,508.9 671.4,511.8 671.7,514.2 671.9,511.3 672.2,511.7 672.4,511.6 672.7,513.2 673,516 673.2,522.7 673.5,521.5 673.7,514.3 674,513.5 674.3,513.1 674.5,513.6 674.8,514.4 675,521.2 675.3,519.6 675.6,514.2 675.8,513.2 676.1,514.2 676.3,514.2 676.6,514.6 676.9,521.2 677.1,520.5 677.4,516 677.6,514.7 677.9,514.6 678.2,514.7 678.4,510.6 678.7,521.3 678.9,521.8 679.2,515.3 679.4,515.1 679.7,516 680,516.9 680.2,518.3 680.5,521.8 680.7,522.6 681,519 681.3,518.1 681.5,518.2 681.8,517.1 682,517.8 682.3,522.4 682.6,521.5 682.8,518.7 683.1,516.5 683.3,517.2 683.6,515.5 683.9,516.9 684.1,519.7 684.4,520.4 684.6,513.4 684.9,511.9 685.2,511.4 685.4,512.5 685.7,511.6 685.9,520.5 686.2,520.6 686.4,511.7 686.7,509.6 687,507.2 687.2,506.1 687.5,504.8 687.7,526 688,521.2 688.3,512 688.5,508 688.8,510.3 689,508.9 689.3,509.4 689.6,519.7 689.8,517.7 690.1,512.1 690.3,512.4 690.6,510.2 690.9,512.2 691.1,511.7 691.4,516.5 691.6,515.9 691.9,508.5 692.2,506.7 692.4,508 692.7,507.1 692.9,506.5 693.2,516.5 693.4,516.1 693.7,513.1 694,513.8 694.2,514.8 694.5,515.8 694.7,517.3 695,521.1 695.3,522.7 695.5,518.1 695.8,516.2 696,515.8 696.3,515.1 696.6,515.5 696.8,520.6 697.1,521.4 697.3,514.8 697.6,512.1 697.9,511.8 698.1,511.6 698.4,510.6 698.6,520.8 698.9,520.3 699.2,517.1 699.4,516 699.7,516.4 699.9,517 700.2,518.5 700.5,520.7 700.7,521.4 701,519.5 701.2,519 701.5,520.1 701.7,519.5 702,522.7 702.3,522 702.5,522 702.8,516.8 703,516.1 703.3,515.1 703.6,513.9 703.8,515.1 704.1,512.3 704.3,519.5 704.6,515.6 704.9,514.4 705.1,515.2 705.4,516.2 705.6,517.5 705.9,521.6 706.2,521.7 706.4,519.4 706.7,519.8 706.9,519.5 707.2,519.5 707.5,519.3 707.7,522.1 708,521.4 708.2,520.9 708.5,518.9 708.7,518.7 709,518.4 709.3,520.2 709.5,520.6 709.8,521.4 710,516.7 710.3,515.5 710.6,514.4 710.8,512.9 711.1,513.1 711.3,520.4 711.6,522.5 711.9,510.7 712.1,505.3 712.4,508.1 712.6,509.7 712.9,513.5 713.2,523.1 713.4,523.4 713.7,511.7 713.9,512.9 714.2,512.2 714.5,524.4 714.7,513.8 715,521.7 715.2,520.4 715.5,510.6 715.7,509 716,508 716.3,508.7 716.5,509.3 716.8,506.5 717,520.1 717.3,511.4 717.6,511.8 717.8,509.6 718.1,511.6 718.3,514.2 718.6,519.8 718.9,522.3 719.1,517.5 719.4,516.4 719.6,516.1 719.9,516.9 720.2,518 720.4,519.5 720.7,520.5 720.9,515.3 721.2,515.2 721.5,513.7 721.7,513.7 722,513.6 722.2,521.9 722.5,520.2 722.7,513.3 723,511.2 723.3,510 723.5,510.2 723.8,509.6 724,504.8 724.3,519.2 724.6,511.8 724.8,508.4 725.1,510.4 725.3,510.7 725.6,512.3 725.9,517.4 726.1,518.3 726.4,508.8 726.6,506.1 726.9,507.4 727.2,505.7 727.4,509.2 727.7,517.3 727.9,518.5 728.2,507.8 728.5,504.7 728.7,504.8 729,506.3 729.2,506.8 729.5,519.5 729.7,516.7 730,507.4 730.3,502.7 730.5,498.3 730.8,495.7 731,496.6 731.3,504.1 731.6,503.6 731.8,496.5 732.1,493.6 732.3,494.2 732.6,495.9 732.9,485.3 733.1,504.8 733.4,504 733.6,493 733.9,491.8 734.2,491.7 734.4,492.7 734.7,497.6 734.9,508.4 735.2,508.4 735.5,505.8 735.7,505.3 736,507 736.2,508.3 736.5,514 736.7,519.5 737,521 737.3,506.4 737.5,501.9 737.8,501.5 738,499.8 738.3,498.1 738.6,513.5 738.8,515.7 739.1,502.9 739.3,502.5 739.6,505.5 739.9,504.7 740.1,509.3 740.4,516.9 740.6,520.5 740.9,510.2 741.2,509.2 741.4,510 741.7,510 741.9,511.2 742.2,518.6 742.5,518.8 742.7,514.9 743,514.4 743.2,513.6 743.5,514.2 743.7,515.2 744,521.2 744.3,519.9 744.5,514.7 744.8,513.8 745,514.2 745.3,514.2 745.6,515.6 745.8,522.8 746.1,520.2 746.3,514.8 746.6,514.1 746.9,512.4 747.1,512.6 747.4,515.4 747.6,522.5 747.9,523.5 748.2,516.8 748.4,515 748.7,524.4 748.9,516.4 749.2,517.1 749.5,523.6 749.7,522.1 750,516.8 750.2,516 750.5,516.6 750.7,516.4 751,517.8 751.3,522 751.5,522.6 751.8,518.7 752,518.4 752.3,517.9 752.6,518.8 752.8,519.5 753.1,522.5 753.3,522.6 753.6,520.1 753.9,518.8 754.1,519.6 754.4,518.8 754.6,520 754.9,520.9 755.2,522.6 755.4,519.7 755.7,518.6 755.9,518.6 756.2,518.6 756.5,519.5 756.7,522.3 757,521.2 757.2,516.4 757.5,515.2 757.7,514.5 758,514.6 758.3,514.2 758.5,520.9 758.8,522.4 759,517.7 759.3,515.7 759.6,514.1 759.8,515.7 760.1,511.5 760.3,522.2 760.6,522.2 760.9,515.8 761.1,515.5 761.4,515.8 761.6,516.9 761.9,518.2 762.2,521.6 762.4,522.5 762.7,520.2 762.9,520.9 763.2,521.7 763.5,521.7 763.7,521.4 764,522.4 764.2,522.3 764.5,519.9 764.8,519.2 765,518.3 765.3,518.1 765.5,517.7 765.8,522.6 766,522.4 766.3,517.7 766.6,515.7 766.8,516.6 767.1,514 767.3,517 767.6,521.6 767.9,521.4 768.1,520.5 768.4,519.3 768.6,520.4 768.9,520.3 769.2,521.5 769.4,522.7 769.7,522.4 769.9,522.2 770.2,521.9 770.5,521.4 770.7,520.4 771,520.1 771.2,521.3 771.5,521.5 771.8,516 772,514.2 772.3,512.5 772.5,511.1 772.8,511.2 773,519.7 773.3,507.3 773.6,512 773.8,512.9 774.1,514.2 774.3,514.3 774.6,516 774.9,520.8 775.1,521.7 775.4,520.6 775.6,521.1 775.9,521.9 776.2,520.6 776.4,519.9 776.7,522.1 776.9,521.9 777.2,515.9 777.5,513.2 777.7,511.7 778,510.9 778.2,508.9 778.5,517.7 778.8,519.2 779,505.9 779.3,502.7 779.5,503.1 779.8,500.4 780,495.6 780.3,517.4 780.6,516.2 780.8,505.3 781.1,506.5 781.3,505.6 781.6,504.9 781.9,509.7 782.1,513.9 782.4,514.3 782.6,508.3 782.9,506.5 783.2,508.1 783.4,508.2 783.7,509.1 783.9,517.4 784.2,515.5 784.5,509.9 784.7,504.9 785,507.6 785.2,507.5 785.5,509.1 785.8,517.6 786,520.1 786.3,508.8 786.5,509.7 786.8,511.9 787,514 787.3,517.3 787.6,522.7 787.8,523.1 788.1,522.8 788.3,523.5 788.6,522.5 788.9,522.5 789.1,522.8 789.4,523 789.6,522.8 789.9,522.3 790.2,522.1 790.4,522 790.7,522 790.9,521.8 791.2,522.2 791.5,522.3 791.7,518.3 792,515.8 792.2,513.6 792.5,512.4 792.8,513 793,509 793.3,522.2 793.5,513.7 793.8,515.6 794,516.3 794.3,518.2 794.6,520 794.8,522.6 795.1,522.5 795.3,521.5 795.6,520.9 795.9,520.4 796.1,519.8 796.4,519.6 796.6,521.8 796.9,522.2 797.2,519.6 797.4,517.8 797.7,517.4 797.9,518.5 798.2,520.1 798.5,524.7 798.7,523.2 799,520.3 799.2,517.4 799.5,519.3 799.8,517.2 800,514.8 800.3,529.4 800.5,525.6 800.8,519.3 801,518.7 801.3,519.8 801.6,520.1 801.8,520.9 802.1,523 802.3,522.7 802.6,521.9 802.9,520.8 803.1,519.4 803.4,519.1 803.6,518.6 803.9,521.4 804.2,521.6 804.4,517.7 804.7,514.3 804.9,511.5 805.2,515.1 805.5,516.3 805.7,521.7 806,522.3 806.2,519.6 806.5,520.9 806.8,521.2 807,518.4 807.3,516.8 807.5,520.4 807.8,521.2 808,508.1 808.3,517.4 808.6,517.8 808.8,518.5 809.1,520.8 809.3,523.5 809.6,526.2 809.9,524 810.1,522.2 810.4,524.1 810.6,537.7 810.9,523.1 811.2,526.6 811.4,522.6 811.7,519.6 811.9,518.6 812.2,516.9 812.5,516.7 812.7,517.3 813,521.9 813.2,521.8 813.5,517.9 813.8,515 814,511.9 814.3,503.1 814.5,516.5 814.8,517.7 815,520.6 815.3,512.6 815.6,511.3 815.8,513.6 816.1,512.7 816.3,515.8 816.6,520 816.9,521.9 817.1,514 817.4,511.9 817.6,513.3 817.9,510.1 818.2,514.4 818.4,519.7 818.7,518.6 818.9,505.8 819.2,503 819.5,503.3 819.7,502.4 820,500.6 820.2,520.1 820.5,520.7 820.8,510.1 821,507.3 821.3,508.6 821.5,510.3 821.8,510.6 822,519.6 822.3,520.4 822.6,512.7 822.8,509.7 823.1,510.8 823.3,511.3 823.6,512.8 823.9,521.4 824.1,520.7 824.4,516.9 824.6,513.1 824.9,514.5 825.2,514.3 825.4,515.4 825.7,520.6 825.9,518 826.2,509.6 826.5,507.9 826.7,504.8 827,509.9 827.2,509.2 827.5,519.4 827.8,520 828,515.6 828.3,516.2 828.5,515.5 828.8,514.2 829.1,518.2 829.3,521.8 829.6,523.2 829.8,519.2 830.1,516.6 830.3,526 830.6,514.9 830.9,516.3 831.1,522.9 831.4,518.3 831.6,505.4 831.9,500.5 832.2,502.3 832.4,501 832.7,503 832.9,514.3 833.2,520 833.5,496.7 833.7,495.6 834,497.4 834.2,494 834.5,501.1 834.8,518.8 835,514.6 835.3,501.4 835.5,502 835.8,502.1 836.1,502 836.3,505.4 836.6,516.9 836.8,517.3 837.1,511 837.3,512.4 837.6,512.6 837.9,511.6 838.1,513.8 838.4,519.7 838.6,522.2 838.9,517.9 839.2,518.4 839.4,520.1 839.7,521.4 839.9,523.6 840.2,524 840.5,524.1 840.7,523.9 841,523.7 841.2,523.5 841.5,523.5 841.8,523.8 842,524.3 842.3,524 842.5,523.5 842.8,523.5 843.1,523.6 843.3,523.6 843.6,523.7 843.8,524.3 844.1,524.1 844.3,523.4 844.6,523.3 844.9,523.1 845.1,523.2 845.4,523.3 845.6,524.1 845.9,524.2 846.2,523.8 846.4,523.7 846.7,523.8 846.9,523.6 847.2,523.8 847.5,524.2 847.7,524.3 848,523.3 848.2,523.2 848.5,523.1 848.8,523.2 849,523.4 849.3,524.4 849.5,524.2 849.8,523.4 850.1,523.2 850.3,523.2 850.6,523.3 850.8,523.4 851.1,524.1 851.3,524.3 851.6,523.4 851.9,523.1 852.1,523.3 852.4,523.1 852.6,523.5 852.9,524.2 853.2,524 853.4,523.4 853.7,523.3 853.9,523.2 854.2,523.1 854.5,523.3 854.7,525.1 855,525.5 855.2,526.4 855.5,523.3 855.8,523.2 856,523.1 856.3,523.2 856.5,524.2 856.8,524.3 857.1,523.7 857.3,523.7 857.6,523.7 857.8,523.7 858.1,523.6 858.3,524.1 858.6,524.1 858.9,523.2 859.1,523.2 859.4,523.2 859.6,523.2 859.9,523.2 860.2,523.9 860.4,523.9 860.7,523.3 860.9,523.1 861.2,523.2 861.5,523.2 861.7,523.2 862,524 862.2,523.8 862.5,523.3 862.8,523.1 863,523.2 863.3,523.2 863.5,523.3 863.8,523.7 864.1,523.7 864.3,523.2 864.6,523.2 864.8,523.1 865.1,523.1 865.3,523.3 865.6,523.7 865.9,523.8 866.1,523.3 866.4,523.2 866.6,523.1 866.9,523.2 867.2,523.2 867.4,523.7 867.7,521.3 867.9,514.6 868.2,508.9 868.5,504.3 868.7,492.2 869,475.4 869.2,491.1 869.5,440.6 869.8,451.6 870,444.2 870.3,450.7 870.5,447.7 870.8,461.7 871.1,495.4 871.3,493.2 871.6,480 871.8,482.3 872.1,480.1 872.3,483.6 872.6,482.5 872.9,491.8 873.1,491.4 873.4,486 873.6,480.2 873.9,480.7 874.2,481 874.4,483.1 874.7,490 874.9,491.7 875.2,475.8 875.5,475.4 875.7,475 876,475.2 876.2,477.9 876.5,494.2 876.8,490.3 877,494.4 877.3,482.6 877.5,480.1 877.8,477.4 878.1,481.8 878.3,483.5 878.6,482.3 878.8,466 879.1,464.9 879.3,461.9 879.6,459.8 879.9,463.3 880.1,457 880.4,486.6 880.6,470.6 880.9,468.7 881.2,472.6 881.4,472.2 881.7,480.4 881.9,495 882.2,493.5 882.5,485.1 882.7,488 883,491.6 883.2,495.8 883.5,499 883.8,504.5 884,505.6 884.3,503.4 884.5,502.1 884.8,502.2 885.1,501.5 885.3,502.7 885.6,509.6 885.8,508 886.1,511 886.4,500.5 886.6,499 886.9,499.5 887.1,499.3 887.4,505.9 887.6,507.1 887.9,498.6 888.2,495.4 888.4,494.1 888.7,495.7 888.9,496.7 889.2,492.6 889.5,505.1 889.7,495.7 890,495.2 890.2,495.3 890.5,497.1 890.8,499 891,506.6 891.3,507.5 891.5,503 891.8,504.2 892.1,505 892.3,507.3 892.6,509 892.8,518.9 893.1,519.8 893.4,512.4 893.6,511.8 893.9,511.9 894.1,514.5 894.4,516.6 894.6,522.8 894.9,524.6 895.2,519 895.4,520.3 895.7,521.7 895.9,522.4 896.2,526 896.5,524.9 896.7,525.5 897,523.2 897.2,522.3 897.5,522.7 897.8,522.6 898,522.8 898.3,524.6 898.5,524.8 898.8,522.7 899.1,522.4 899.3,522.4 899.6,522.3 899.8,522.8 900.1,524.2 900.4,524 900.6,522.5 900.9,522.5 901.1,522.6 901.4,522.4 901.6,522.7 901.9,523.6 902.2,523 902.4,518 902.7,515.8 902.9,512.7 903.2,510.8 903.5,511.4 903.7,519.3 904,520.4 904.2,507.5 904.5,505.2 904.8,503.1 905,502.8 905.3,502.1 905.5,511.8 905.8,510.2 906.1,503.1 906.3,499.4 906.6,500.2 906.8,499.5 907.1,501.3 907.4,507.6 907.6,506.9 907.9,501.8 908.1,499.2 908.4,498.4 908.6,498.4 908.9,498.7 909.2,493.1 909.4,504.5 909.7,499.3 909.9,498.7 910.2,500.4 910.5,502 910.7,504.3 911,511.9 911.2,513.1 911.5,506.9 911.8,504.4 912,506.6 912.3,506.9 912.5,507 912.8,514.6 913.1,514.7 913.3,509.4 913.6,507.8 913.8,509.3 914.1,507.6 914.4,513.3 914.6,530.1 914.9,532.7 915.1,508.4 915.4,506.1 915.6,507.9 915.9,506.8 916.2,509.6 916.4,520.4 916.7,517.6 916.9,513.7 917.2,511 917.5,507.2 917.7,505.3 918,505.1 918.2,514.3 918.5,512.4 918.8,499.9 919,495.7 919.3,493.9 919.5,492.8 919.8,495.5 920.1,483.1 920.3,502.9 920.6,490.3 920.8,491 921.1,496.1 921.4,496.5 921.6,501 921.9,516.7 922.1,515.9 922.4,499.3 922.6,496.4 922.9,493.8 923.2,494.2 923.4,496.7 923.7,490.6 923.9,518.1 924.2,504.2 924.5,504.4 924.7,504.6 925,505 925.2,509.1 925.5,521.7 925.8,519.5 926,514.3 926.3,512.6 926.5,516.3 926.8,516.8 927.1,517.9 927.3,523.3 927.6,522 927.8,511.4 928.1,508.3 928.4,509.2 928.6,507.8 928.9,507.7 929.1,521.5 929.4,518.1 929.6,515.4 929.9,512.5 930.2,510.8 930.4,510.9 930.7,514.1 930.9,522.1 931.2,520.9 931.5,505.6 931.7,504.6 932,505.2 932.2,505 932.5,500.6 932.8,523.9 933,520.3 933.3,503 933.5,503.7 933.8,502.6 934.1,502.5 934.3,507.1 934.6,520.1 934.8,523.2 935.1,506.9 935.4,504.8 935.6,507 935.9,507 936.1,507.6 936.4,519.7 936.6,522 936.9,516.3 937.2,513.2 937.4,515.6 937.7,515.4 937.9,517.5 938.2,524.8 938.5,523.3 938.7,514.9 939,511.3 939.2,513 939.5,513.2 939.8,514.4 940,525.9 940.3,526 940.5,515.1 940.8,514.4 941.1,512.6 941.3,512.2 941.6,514.7 941.8,521.2 942.1,519.4 942.4,507.2 942.6,504.2 942.9,504.9 943.1,504.5 943.4,505.3 943.6,521.2 943.9,518.2 944.2,509.8 944.4,507.9 944.7,505.4 944.9,504.6 945.2,506.2 945.5,518.9 945.7,520.6 946,506.9 946.2,504.1 946.5,502 946.8,501.4 947,504.1 947.3,518 947.5,500.6 947.8,507.3 948.1,502.9 948.3,503.5 948.6,502.8 948.8,506.3 949.1,518.3 949.4,520 949.6,511.6 949.9,508.6 950.1,512.2 950.4,510.3 950.7,511.9 950.9,521 951.2,519 951.4,509.1 951.7,505 951.9,505.3 952.2,504.7 952.5,505 952.7,513.2 953,512.4 953.2,499.5 953.5,495.4 953.8,496.3 954,492.9 954.3,493.2 954.5,504.7 954.8,506.4 955.1,484.3 955.3,488.7 955.6,487.5 955.8,486.7 956.1,493 956.4,503.6 956.6,502.6 956.9,491.9 957.1,492.5 957.4,490.3 957.7,493.2 957.9,492.1 958.2,507.9 958.4,504.4 958.7,499.1 958.9,496.9 959.2,496.2 959.5,493.7 959.7,499.4 960,504.7 960.2,506.8 960.5,493.2 960.8,492.1 961,491 961.3,488.5 961.5,487.3 961.8,508.1 962.1,509.3 962.3,499.8 962.6,496.4 962.8,497.4 963.1,499.7 963.4,501.6 963.6,511.8 963.9,507.7 964.1,503.4 964.4,499.1 964.7,501.6 964.9,502.4 965.2,512.7 965.4,510.6 965.7,507.5 965.9,502.7 966.2,500.2 966.5,497.4 966.7,498.2 967,499.7 967.2,500.1 967.5,487.3 967.8,490.6 968,487.9 968.3,489.6 968.5,488.6 968.8,490.8 969.1,503.3 969.3,504.5 969.6,493.2 969.8,493.5 970.1,493.7 970.4,491.1 970.6,495.5 970.9,502.6 971.1,501.2 971.4,494.3 971.7,492.3 971.9,493.8 972.2,491.8 972.4,493.6 972.7,502.7 972.9,501.4 973.2,492.7 973.5,489 973.7,489.2 974,489.4 974.2,491.1 974.5,503.6 974.8,505.1 975,491.3 975.3,489.9 975.5,490.4 975.8,490.9 976.1,492.8 976.3,506.4 976.6,506.7 976.8,499.5 977.1,497 977.4,498 977.6,499.4 977.9,502.7 978.1,507.9 978.4,511.2 978.7,501.8 978.9,501.1 979.2,503.2 979.4,514.4" fill="none" stroke="#28364F" stroke-width="1.25" stroke-linejoin="round" stroke-linecap="round"/>
<path d="M868.7,534L869.1,300L869.3,221L870,219L872.2,219.2L872.7,222L873.3,300L874.4,460L874.8,500L870,534Z" fill="#C49C63"/>
<path d="M338.9,526L339,467L339.5,464.8L341.5,469L343.2,474.6L343.9,497L344.6,511L346,526L344,531L340,531Z" fill="#C49C63"/>
<path d="M96.6,469.2 96.9,484.4 97.1,506.1 97.4,523.9 97.6,521.8 97.9,528.1 98.2,521.1 98.4,522.9 98.7,528.3 98.9,525.9 99.2,523 99.5,524.4 99.7,527 100,526.6 100.2,523.6 100.5,524.7 100.7,526.7 101,528.2 101.3,527.2 101.5,525.8 101.8,527.2 102,525.2 102.3,527.1 102.6,526.3 102.8,529 103.1,529.7 103.3,528.4 103.6,528 103.9,529.2 104.1,528.7 104.4,528.9 104.6,530 104.9,529.6 105.2,529.8 105.4,529.9 105.7,527.5 105.9,529.9 106.2,528.6 106.5,528.3 106.7,529.7 107,527.7 107.2,527.1 107.5,526.5 107.7,528.3 108,526.7 108.3,526 108.5,528.7 108.8,525.6 109,528.4 109.3,525.2 109.6,523.9 109.8,526.8 110.1,523.4 110.3,523.7 110.6,524.1 110.9,527.6 111.1,524.5 111.4,525.1 111.6,528 111.9,527.1 112.2,526.3 112.4,527.2 112.7,529.1 112.9,523.8 113.2,523.2 113.5,522 113.7,527.3 114,524.3 114.2,525.5 114.5,517.9 114.7,515.9 115,509.2 115.3,510 115.5,517.9 115.8,510.7 116,512.4 116.3,511.3 116.6,515 116.8,522.4 117.1,511.6 117.3,514.1 117.6,518.9 117.9,524.7 118.1,519.2 118.4,519.6 118.6,518.4 118.9,517.6 119.2,505.4 119.4,507.7 119.7,519.1 119.9,516.1 120.2,513.9 120.5,501.7 120.7,499.3 121,497.7 121.2,487.5 121.5,501.5 121.7,491.8 122,504.1 122.3,496.8 122.5,500.9 122.8,496 123,500.2 123.3,506.1 123.6,504.5 123.8,496.8 124.1,492.5 124.3,494.4 124.6,496.8 124.9,498.8 125.1,505.3 125.4,504.2 125.6,507.8 125.9,510.1 126.2,507.1 126.4,507.1 126.7,508.2 126.9,519.2 127.2,514 127.5,515.3 127.7,511.5 128,522.9 128.2,502.5 128.5,505.6 128.8,518.6 129,508.5 129.3,515.1 129.5,517.3 129.8,519.8 130,510.1 130.3,516.4 130.6,505.7 130.8,521.7 131.1,517.4 131.3,514.5 131.6,523.1 131.9,508.1 132.1,515.6 132.4,519.7 132.6,523.5 132.9,520.2 133.2,521.9 133.4,524.2 133.7,516.1 133.9,521.2 134.2,518.4 134.5,515.4 134.7,517.6 135,519.5 135.2,518.4 135.5,524.6 135.8,520.9 136,515 136.3,515.6 136.5,516.7 136.8,514.8 137,513.9 137.3,524.4 137.6,513.4 137.8,522.4 138.1,516.4 138.3,518 138.6,523.9 138.9,518.4 139.1,520.6 139.4,523.7 139.6,521.5 139.9,526.6 140.2,527.6 140.4,525.2 140.7,525.3 140.9,525.8 141.2,527.5 141.5,524.1 141.7,528.2 142,529.3 142.2,525.2 142.5,529.8 142.8,530.2 143,528.4 143.3,527.8 143.5,530.8 143.8,525 144,528.4 144.3,528.8 144.6,527.3 144.8,523.9 145.1,524.7 145.3,522.3 145.6,522 145.9,521.2 146.1,525.9 146.4,522 146.6,518.9 146.9,521.2 147.2,519.3 147.4,519.3 147.7,516.7 147.9,525.7 148.2,520.5 148.5,513.6 148.7,525 149,525.6 149.2,509.2 149.5,524.8 149.8,521.9 150,525.2 150.3,511.4 150.5,508.2 150.8,511.3 151,505.3 151.3,504.2 151.6,512.7 151.8,511.6 152.1,525 152.3,508.5 152.6,508.6 152.9,510.2 153.1,523.2 153.4,521.5 153.6,522.4 153.9,524.2 154.2,516.8 154.4,517.3 154.7,521.8 154.9,516.7 155.2,511.3 155.5,522.8 155.7,511.3 156,524.9 156.2,519.3 156.5,515.3 156.8,507.5 157,510.3 157.3,521.8 157.5,524.2 157.8,513.1 158,520.2 158.3,513.2 158.6,524.4 158.8,516.6 159.1,515.7 159.3,517.3 159.6,512.7 159.9,522.8 160.1,515.7 160.4,518.5 160.6,507.8 160.9,507 161.2,514.1 161.4,521.6 161.7,519.4 161.9,503.4 162.2,508.6 162.5,522.6 162.7,516.6 163,520.7 163.2,514.3 163.5,521.6 163.8,524.2 164,523.3 164.3,516.8 164.5,525.1 164.8,524.3 165,515.3 165.3,522.2 165.6,515.7 165.8,524.3 166.1,523.7 166.3,523.1 166.6,525.6 166.9,519.1 167.1,520.7 167.4,524.9 167.6,518.4 167.9,519.3 168.2,522.1 168.4,522.9 168.7,521 168.9,522.5 169.2,520.9 169.5,526.9 169.7,526.5 170,523.1 170.2,521.9 170.5,526.2 170.8,527.9 171,524 171.3,523.5 171.5,524.5 171.8,523.7 172,525.3 172.3,529 172.6,525.8 172.8,528.4 173.1,525.7 173.3,527.9 173.6,526.2 173.9,527.2 174.1,528.3 174.4,527.5 174.6,526.1 174.9,528.9 175.2,527.9 175.4,526.7 175.7,526.5 175.9,527.7 176.2,527.7 176.5,528.8 176.7,528.8 177,526.5 177.2,526.3 177.5,527.4 177.8,527.8 178,528.5 178.3,526 178.5,529.1 178.8,528.3 179,529.1 179.3,529.1 179.6,529.1 179.8,526.1 180.1,528.6 180.3,528.6 180.6,526.4 180.9,526.1 181.1,528.8 181.4,527.7 181.6,526.7 181.9,525.9 182.2,528.4 182.4,526.7 182.7,528.9 182.9,527.2 183.2,528.9 183.5,526.1 183.7,528.1 184,528.9 184.2,527.8 184.5,528.6 184.8,527 185,527.1 185.3,528.6 185.5,528.9 185.8,526.8 186,526.5 186.3,526.5 186.6,526.3 186.8,527.4 187.1,527.9 187.3,526.5 187.6,528.3 187.9,527.5 188.1,526.6 188.4,528.3 188.6,526.8 188.9,527.6 189.2,528.6 189.4,528.2 189.7,527.8 189.9,528.8 190.2,528.5 190.5,526.7 190.7,528.7 191,528.5 191.2,529 191.5,528.8 191.8,527.1 192,529.1 192.3,528.1 192.5,529.3 192.8,529.3 193.1,528.9 193.3,529.4 193.6,529.5 193.8,526.7 194.1,526.7 194.3,528 194.6,526.6 194.9,529.2 195.1,528.6 195.4,528.9 195.6,529.2 195.9,526.1 196.2,528.3 196.4,528.2 196.7,527 196.9,528.4 197.2,525.8 197.5,526.2 197.7,526.2 198,526.3 198.2,528.6 198.5,526.3 198.8,525.5 199,525.4 199.3,527.6 199.5,528.5 199.8,525.7 200.1,525.2 200.3,526.8 200.6,526.1 200.8,525.2 201.1,528.4 201.3,526.4 201.6,525.1 201.9,526.3 202.1,528.3 202.4,524.5 202.6,524.6 202.9,527.6 203.2,525 203.4,524.2 203.7,525 203.9,528.4 204.2,525.6 204.5,528.3 204.7,526.9 205,527.3 205.2,526.4 205.5,526.4 205.8,529.1 206,529.3 206.3,529.3 206.5,529.9 206.8,528.1 207.1,530 207.3,528.3 207.6,526.7 207.8,527.8 208.1,528.2 208.3,528.6 208.6,524.7 208.9,527.6 209.1,528.1 209.4,526.2 209.6,523.4 209.9,525.5 210.2,525.8 210.4,524.9 210.7,521.9 210.9,524.7 211.2,520.8 211.5,524 211.7,523 212,523.4 212.2,526.1 212.5,520.9 212.8,521.5 213,524.7 213.3,524 213.5,517.7 213.8,525.5 214.1,525 214.3,525.1 214.6,520.2 214.8,515.3 215.1,515.9 215.3,514.3 215.6,516.4 215.9,514.1 216.1,523.6 216.4,513.5 216.6,514.6 216.9,512.5 217.2,524.1 217.4,511.5 217.7,511.6 217.9,521.3 218.2,510.4 218.5,522.1 218.7,522.2 219,521.6 219.2,512.4 219.5,513.5 219.8,521.5 220,510.8 220.3,520.8 220.5,520.1 220.8,501.7 221.1,513.4 221.3,517.4 221.6,514.4 221.8,511.3 222.1,512.7 222.3,513.8 222.6,516.7 222.9,511.7 223.1,511.6 223.4,522.3 223.6,514.4 223.9,520.7 224.2,517.1 224.4,523.7 224.7,522 224.9,523.8 225.2,527.4 225.5,526.7 225.7,527.4 226,524.9 226.2,524.9 226.5,527.2 226.8,525 227,524.8 227.3,526.9 227.5,525.8 227.8,527.4 228.1,525 228.3,527 228.6,524.3 228.8,526.9 229.1,527.4 229.3,526.3 229.6,525.1 229.9,526.7 230.1,524.3 230.4,524.3 230.6,527.1 230.9,525.3 231.2,525.8 231.4,524.3 231.7,524.4 231.9,527.3 232.2,526.5 232.5,525.3 232.7,525.1 233,524.9 233.2,526.2 233.5,524.8 233.8,525.9 234,524.8 234.3,526.6 234.5,527.2 234.8,524.4 235.1,526.2 235.3,523.9 235.6,525 235.8,527 236.1,523.9 236.3,524.6 236.6,524.7 236.9,524.6 237.1,525.7 237.4,524.4 237.6,526.3 237.9,525.1 238.2,526.8 238.4,524.7 238.7,525.4 238.9,524.8 239.2,523.4 239.5,526.2 239.7,525.4 240,526.4 240.2,524.2 240.5,525.4 240.8,525.8 241,526.2 241.3,526.5 241.5,526.5 241.8,526.6 242.1,526.3 242.3,523.4 242.6,524.1 242.8,526.2 243.1,524.9 243.3,524.2 243.6,526.6 243.9,525.5 244.1,526.7 244.4,527.5 244.6,524.6 244.9,521.3 245.2,526.1 245.4,522.1 245.7,522.2 245.9,524.9 246.2,523.3 246.5,524.3 246.7,525.6 247,521.3 247.2,516.7 247.5,522.1 247.8,523.4 248,521.2 248.3,514.2 248.5,520.9 248.8,522.3 249.1,519.4 249.3,522.6 249.6,518.3 249.8,520.7 250.1,519.4 250.3,527.1 250.6,523.5 250.9,524.4 251.1,524.5 251.4,523.6 251.6,524.7 251.9,528.5 252.2,525.2 252.4,527.6 252.7,525.5 252.9,526.7 253.2,528.8 253.5,527.5 253.7,529.5 254,530.1 254.2,527 254.5,527.2 254.8,529.1 255,527.7 255.3,532.5 255.5,528.4 255.8,529.3 256.1,528.8 256.3,528.6 256.6,532.2 256.8,530.1 257.1,530 257.4,532 257.6,529.4 257.9,528.1 258.1,528.8 258.4,528.8 258.6,527.6 258.9,532 259.2,532 259.4,531.7 259.7,530.7 259.9,527.5 260.2,529.9 260.5,530.7 260.7,529.9 261,528.3 261.2,527.6 261.5,531.3 261.8,531 262,531.5 262.3,531.5 262.5,529.4 262.8,527.7 263.1,530.1 263.3,531.6 263.6,530.9 263.8,531.5 264.1,529.9 264.4,528.6 264.6,531.4 264.9,529.8 265.1,528.9 265.4,529.5 265.6,531.1 265.9,529.7 266.2,531.1 266.4,530.5 266.7,529.6 266.9,528.9 267.2,530 267.5,528.1 267.7,529.5 268,530.8 268.2,529.5 268.5,528.9 268.8,529.9 269,530.5 269.3,529.5 269.5,529.9 269.8,531.2 270.1,532.3 270.3,530.8 270.6,532 270.8,531.9 271.1,531.8 271.4,529.9 271.6,529.7 271.9,532.7 272.1,529.6 272.4,530.6 272.6,529.2 272.9,530.8 273.2,530.6 273.4,529.5 273.7,532.9 273.9,533.8 274.2,533.5 274.5,529.4 274.7,532.5 275,532.4 275.2,534.1 275.5,529.5 275.8,529.7 276,529.4 276.3,533.4 276.5,531.1 276.8,532.2 277.1,529.9 277.3,529.5 277.6,529.5 277.8,529.7 278.1,531.6 278.4,531.1 278.6,532.1 278.9,531.3 279.1,529.6 279.4,532.5 279.6,532.5 279.9,531.4 280.2,531 280.4,532.4 280.7,532.3 280.9,532.2 281.2,531.3 281.5,532.4 281.7,532.2 282,532.1 282.2,532.1 282.5,530.4 282.8,532 283,529.7 283.3,528 283.5,532.5 283.8,530.7 284.1,527.6 284.3,531.5 284.6,529.6 284.8,530.2 285.1,527.1 285.4,527.7 285.6,528.6 285.9,527.1 286.1,525.9 286.4,531.1 286.6,531.5 286.9,527.1 287.2,529.4 287.4,532.6 287.7,532.1 287.9,529.3 288.2,528.6 288.5,529.3 288.7,530 289,532.2 289.2,532.6 289.5,531.3 289.8,533.2 290,531.3 290.3,532.2 290.5,531.2 290.8,533.1 291.1,533.3 291.3,533 291.6,530.9 291.8,534 292.1,534 292.4,531 292.6,531 292.9,531.1 293.1,531 293.4,532.4 293.6,533.9 293.9,531.3 294.2,532.8 294.4,531.5 294.7,534 294.9,533.7 295.2,531.8 295.5,534.1 295.7,532.5 296,531.9 296.2,531.7 296.5,532.6 296.8,533 297,531.6 297.3,533.6 297.5,533.2 297.8,534.5 298.1,533.4 298.3,534.2 298.6,534.4 298.8,534.3 299.1,531.2 299.4,532.8 299.6,532.7 299.9,532.5 300.1,532.6 300.4,531.4 300.6,535.1 300.9,532.5 301.2,535.3 301.4,531.6 301.7,532.7 301.9,532.6 302.2,532.3 302.5,535.2 302.7,535.8 303,534.1 303.2,532 303.5,532.3 303.8,528.8 304,528.5 304.3,526.9 304.5,525.9 304.8,530.7 305.1,530.7 305.3,530.7 305.6,530.9 305.8,528.8 306.1,528.7 306.4,528.4 306.6,529 306.9,528.4 307.1,531.6 307.4,529.6 307.6,529.9 307.9,529.2 308.2,528.7 308.4,528.3 308.7,528.7 308.9,529.6 309.2,529.6 309.5,531.9 309.7,530.4 310,532.3 310.2,531.4 310.5,532.3 310.8,529.7 311,529.6 311.3,530.7 311.5,532.3 311.8,532.9 312.1,531.1 312.3,532.4 312.6,532.9 312.8,532.4 313.1,531.5 313.4,532.2 313.6,532 313.9,533 314.1,533.1 314.4,532.4 314.6,533.1 314.9,532.9 315.2,531.5 315.4,532 315.7,531.8 315.9,533.5 316.2,532.5 316.5,531.7 316.7,531.7 317,532.4 317.2,534.2 317.5,531.8 317.8,533 318,532.2 318.3,534.4 318.5,532.7 318.8,532.3 319.1,533.3 319.3,532.2 319.6,533.2 319.8,533.2 320.1,534.4 320.4,534.8 320.6,532.9 320.9,534.5 321.1,534.4 321.4,532.3 321.7,532.3 321.9,534.9 322.2,532.4 322.4,533.6 322.7,532.4 322.9,534.2 323.2,535.3 323.5,534.6 323.7,535.1 324,532.4 324.2,533.6 324.5,532.7 324.8,535.1 325,532.7 325.3,535.8 325.5,535.3 325.8,533.5 326.1,534.3 326.3,533.9 326.6,534.2 326.8,533.2 327.1,533.6 327.4,532.6 327.6,533.4 327.9,534.3 328.1,535.2 328.4,533.7 328.7,534.7 328.9,533 329.2,534.3 329.4,532.6 329.7,535 329.9,534.4 330.2,532.8 330.5,533.9 330.7,533.9 331,534.2 331.2,534.1 331.5,534.9 331.8,534.2 332,534 332.3,532.6 332.5,535 332.8,533.5 333.1,534.9 333.3,534.9 333.6,534.7 333.8,534 334.1,533.5 334.4,535.2 334.6,533.2 334.9,535.3 335.1,535.5 335.4,532.5 335.7,532.9 335.9,534.7 336.2,535.8 336.4,532.4 336.7,531.2 336.9,531.1 337.2,531.1 337.5,532.3 337.7,532.3 338,532.2 338.2,524.9 338.5,524.5 338.8,504.7 339,494.2 339.3,487.5 339.5,465.9 339.8,513.6 340.1,471.1 340.3,511.4 340.6,473.2 340.8,516.3 341.1,522.3 341.4,509.3 341.6,501.6 341.9,506.4 342.1,520.3 342.4,521.5 342.7,514.2 342.9,508.8 343.2,495.6 343.4,502.4 343.7,523.5 343.9,505.2 344.2,517.1 344.5,523.4 344.7,517.2 345,523.5 345.2,527.5 345.5,527 345.8,520.1 346,527.1 346.3,522.5 346.5,525.6 346.8,520.6 347.1,520.9 347.3,523.4 347.6,520.4 347.8,516.5 348.1,516.5 348.4,520.1 348.6,523.2 348.9,522.4 349.1,505 349.4,521.6 349.7,509.2 349.9,520.2 350.2,515.6 350.4,512.6 350.7,517 350.9,518.6 351.2,526.2 351.5,521.6 351.7,527.2 352,527.5 352.2,523.3 352.5,528 352.8,522.6 353,526.4 353.3,523.7 353.5,526.4 353.8,527.2 354.1,523.7 354.3,526.6 354.6,528.7 354.8,529.2 355.1,524.3 355.4,525.5 355.6,527.9 355.9,525.5 356.1,529.7 356.4,530.4 356.7,529.3 356.9,527.9 357.2,528 357.4,531.2 357.7,533.3 357.9,529.2 358.2,532.7 358.5,530.8 358.7,531.4 359,529.7 359.2,532.7 359.5,528.5 359.8,529.6 360,532.9 360.3,530.4 360.5,529.2 360.8,532 361.1,531.4 361.3,532.7 361.6,532 361.8,532.1 362.1,532.6 362.4,529.5 362.6,531.7 362.9,532.5 363.1,529.2 363.4,530.8 363.7,530.3 363.9,531 364.2,532.5 364.4,531.9 364.7,530.2 364.9,529.6 365.2,531.6 365.5,531.5 365.7,529.8 366,531.1 366.2,532.5 366.5,530.6 366.8,531 367,532.3 367.3,532.3 367.5,530.6 367.8,532.1 368.1,532.2 368.3,532.1 368.6,532.2 368.8,532.3 369.1,530.8 369.4,532.4 369.6,532.4 369.9,531.1 370.1,532.3 370.4,531.9 370.7,532.5 370.9,531 371.2,532.4 371.4,532.6 371.7,531.5 371.9,532.7 372.2,531.7 372.5,531.5 372.7,531.5 373,532.7 373.2,531.9 373.5,531.3 373.8,531.2 374,531.7 374.3,532.8 374.5,532.6 374.8,531.7 375.1,532.4 375.3,532 375.6,531.9 375.8,532.5 376.1,531.7 376.4,532.6 376.6,533 376.9,531.6 377.1,532.3 377.4,533.2 377.7,532.8 377.9,532.9 378.2,533.1 378.4,532.2 378.7,533.3 378.9,531.9 379.2,532.6 379.5,532.6 379.7,532.1 380,531.5 380.2,531.9 380.5,532.8 380.8,532.7 381,532.8 381.3,532.5 381.5,532.1 381.8,532.5 382.1,531.7 382.3,531.4 382.6,531.2 382.8,532 383.1,531.4 383.4,532 383.6,531.7 383.9,532 384.1,532.3 384.4,531.8 384.7,531.9 384.9,531.3 385.2,531.8 385.4,531.1 385.7,531 386,532.1 386.2,532.1 386.5,530.9 386.7,531.7 387,530.1 387.2,531.6 387.5,531.5 387.8,531.5 388,530.6 388.3,531.3 388.5,529.2 388.8,529.7 389.1,529.1 389.3,530.7 389.6,530.6 389.8,529.5 390.1,528.4 390.4,529.1 390.6,529.8 390.9,528.6 391.1,528.7 391.4,528.6 391.7,530.7 391.9,531.2 392.2,530.3 392.4,530 392.7,530.7 393,531.3 393.2,529 393.5,530.7 393.7,529.7 394,529.7 394.2,529.7 394.5,532.2 394.8,531 395,530.8 395.3,530.7 395.5,533.4 395.8,533.9 396.1,534.1 396.3,532.6 396.6,535.4 396.8,535.8 397.1,534.4 397.4,535.3 397.6,534.2 397.9,534.8 398.1,535.4 398.4,532.5 398.7,534 398.9,535 399.2,533.7 399.4,533.4 399.7,534.2 400,532.5 400.2,534 400.5,534.7 400.7,534.6 401,532.1 401.2,532.1 401.5,532.5 401.8,532.8 402,532.1 402.3,532.3 402.5,532.5 402.8,533.3 403.1,534.1 403.3,532.5 403.6,532 403.8,531.7 404.1,533.3 404.4,532.5 404.6,532 404.9,532.5 405.1,532.6 405.4,534 405.7,533.9 405.9,532.6 406.2,531.8 406.4,533.7 406.7,533.1 407,531.8 407.2,533.8 407.5,532.4 407.7,532.8 408,532.8 408.2,532.4 408.5,533.4 408.8,533.3 409,533.4 409.3,532.3 409.5,533.1 409.8,533.3 410.1,533.6 410.3,532.5 410.6,532.1 410.8,533.5 411.1,532.2 411.4,533.4 411.6,532 411.9,533.4 412.1,533.2 412.4,531.7 412.7,533.2 412.9,532.1 413.2,531.7 413.4,532.2 413.7,532.7 414,532.9 414.2,531.9 414.5,532.4 414.7,532.4 415,531.1 415.2,531 415.5,532.2 415.8,531.4 416,532.1 416.3,530.9 416.5,530.6 416.8,532.3 417.1,531.6 417.3,532 417.6,531.9 417.8,532.1 418.1,530.7 418.4,532.1 418.6,531.9 418.9,530.5 419.1,531.4 419.4,531.8 419.7,530.8 419.9,529.2 420.2,531.7 420.4,529.3 420.7,529.8 421,530.1 421.2,531.1 421.5,531.7 421.7,531.4 422,530.6 422.2,531.1 422.5,530.1 422.8,531.7 423,531.8 423.3,530.9 423.5,531.3 423.8,531.4 424.1,531.8 424.3,532.1 424.6,530.7 424.8,530.6 425.1,532.1 425.4,530.7 425.6,530.7 425.9,531.4 426.1,531.3 426.4,531 426.7,532 426.9,532.5 427.2,529.5 427.4,531 427.7,525.3 428,525.3 428.2,523.5 428.5,526 428.7,520 429,523.1 429.2,529.3 429.5,529.9 429.8,526.1 430,530.8 430.3,529.9 430.5,531.3 430.8,531.2 431.1,532.5 431.3,529.8 431.6,527.3 431.8,529.3 432.1,527.4 432.4,528 432.6,522.3 432.9,529 433.1,526.8 433.4,520.4 433.7,519.6 433.9,522.1 434.2,518 434.4,523 434.7,515.9 435,517.5 435.2,520.6 435.5,523.2 435.7,525.4 436,522.2 436.2,524.5 436.5,524.8 436.8,523 437,526 437.3,530.7 437.5,531.5 437.8,536.4 438.1,537.5 438.3,526.3 438.6,519.3 438.8,514.4 439.1,508.4 439.4,518.5 439.6,518.5 439.9,520.9 440.1,522.1 440.4,512.2 440.7,515.8 440.9,523 441.2,515.1 441.4,517.6 441.7,521.7 442,516.5 442.2,518.1 442.5,520 442.7,526.1 443,522.3 443.2,525.3 443.5,526.4 443.8,521.4 444,528.6 444.3,523.2 444.5,524 444.8,524.4 445.1,525.3 445.3,529.2 445.6,525.9 445.8,528.4 446.1,528.9 446.4,528.7 446.6,529.8 446.9,529.4 447.1,528.1 447.4,527.1 447.7,527.2 447.9,529.6 448.2,530.2 448.4,528.9 448.7,525.2 449,529.5 449.2,526.4 449.5,525.9 449.7,530.2 450,530.3 450.3,530.5 450.5,530.2 450.8,528.9 451,528.5 451.3,530.8 451.5,528.5 451.8,528.7 452.1,529.7 452.3,529.2 452.6,529.8 452.8,529 453.1,527.3 453.4,530.2 453.6,531.4 453.9,527.1 454.1,531.2 454.4,527.7 454.7,530.6 454.9,527.8 455.2,531.6 455.4,530.6 455.7,526.5 456,528.3 456.2,531.1 456.5,527.9 456.7,527.6 457,531.2 457.3,529.3 457.5,528.6 457.8,528.4 458,527.7 458.3,529.4 458.5,526.3 458.8,530.7 459.1,525.9 459.3,530.7 459.6,525.4 459.8,525.1 460.1,525 460.4,526.6 460.6,525.3 460.9,529.6 461.1,526 461.4,525.9 461.7,529.7 461.9,525.8 462.2,530.1 462.4,527.9 462.7,525.5 463,527 463.2,525.9 463.5,530.5 463.7,526.4 464,528.1 464.3,529.5 464.5,528.5 464.8,528.4 465,526.4 465.3,528 465.5,529.8 465.8,530.6 466.1,527 466.3,526.4 466.6,526.6 466.8,526.4 467.1,523 467.4,522.5 467.6,514.6 467.9,516.7 468.1,506.6 468.4,500.1 468.7,521.8 468.9,492.7 469.2,480.9 469.4,483.4 469.7,486.8 470,508.4 470.2,508.7 470.5,494.6 470.7,499.5 471,515.1 471.3,513.6 471.5,509.5 471.8,511 472,510.2 472.3,523.1 472.5,519.3 472.8,524.1 473.1,516.2 473.3,522.6 473.6,523.3 473.8,520 474.1,522.6 474.4,520 474.6,514.3 474.9,513.4 475.1,516.8 475.4,522.7 475.7,522.8 475.9,517.4 476.2,520.6 476.4,522.8 476.7,519.2 477,519.4 477.2,517.4 477.5,524.3 477.7,524.4 478,521.9 478.3,521.6 478.5,524.8 478.8,520.5 479,521 479.3,525.2 479.5,521.6 479.8,525.4 480.1,523.4 480.3,522.9 480.6,522.4 480.8,521.4 481.1,525.8 481.4,525.5 481.6,522.1 481.9,526.6 482.1,527.2 482.4,525 482.7,522.8 482.9,526.9 483.2,525.4 483.4,527 483.7,523.6 484,526.4 484.2,526.7 484.5,527.6 484.7,525.3 485,525.7 485.3,525 485.5,526.3 485.8,526.6 486,529.3 486.3,529 486.5,527.7 486.8,526.1 487.1,530.1 487.3,526.1 487.6,528.7 487.8,526.6 488.1,528.4 488.4,530 488.6,527.6 488.9,529.2 489.1,531.6 489.4,531.7 489.7,530.6 489.9,528.5 490.2,530.4 490.4,529.2 490.7,529.2 491,532.5 491.2,529.4 491.5,533.1 491.7,529.8 492,530.1 492.3,534.1 492.5,532.2 492.8,531.6 493,528.1 493.3,528.7 493.5,529.7 493.8,530.1 494.1,527.5 494.3,529.1 494.6,529.7 494.8,527.1 495.1,529.1 495.4,528.6 495.6,525 495.9,524.5 496.1,528.7 496.4,526.4 496.7,526.9 496.9,524.1 497.2,524 497.4,527.8 497.7,526.4 498,524.1 498.2,523.8 498.5,523.4 498.7,527.7 499,523 499.3,525.6 499.5,527 499.8,524 500,522.5 500.3,523.9 500.5,523.7 500.8,525.3 501.1,524.8 501.3,523.6 501.6,525.4 501.8,527.2 502.1,527.3 502.4,526.4 502.6,523.5 502.9,526.1 503.1,527.2 503.4,526.7 503.7,524.9 503.9,523.5 504.2,525.5 504.4,525 504.7,524.5 505,528.1 505.2,523.3 505.5,523.2 505.7,527.2 506,524.7 506.3,524.7 506.5,523.9 506.8,527.2 507,528.3 507.3,526.5 507.6,524 507.8,527.8 508.1,527 508.3,526.8 508.6,522.3 508.8,522.6 509.1,526.9 509.4,526 509.6,522.9 509.9,526.6 510.1,525 510.4,526.9 510.7,525.4 510.9,520.9 511.2,524.4 511.4,525.4 511.7,524.7 512,520.3 512.2,522.7 512.5,520.7 512.7,524.2 513,519.8 513.3,519.4 513.5,522.2 513.8,519.8 514,521 514.3,518.3 514.6,520 514.8,524.3 515.1,517.7 515.3,522.5 515.6,517.2 515.8,518.5 516.1,518.4 516.4,520.4 516.6,515.9 516.9,516 517.1,517.4 517.4,516.7 517.7,516.6 517.9,522.5 518.2,522.8 518.4,518.1 518.7,521.9 519,521.2 519.2,523.3 519.5,517.9 519.7,521.4 520,521.1 520.3,518.1 520.5,521.2 520.8,521.6 521,522.7 521.3,522.6 521.6,519 521.8,521.5 522.1,521.1 522.3,519.2 522.6,524.2 522.8,518.3 523.1,518.7 523.4,521.6 523.6,519.7 523.9,523.7 524.1,521.3 524.4,520 524.7,522.2 524.9,520.1 525.2,524.5 525.4,523.4 525.7,524 526,519.4 526.2,523.1 526.5,522.1 526.7,518.7 527,525 527.3,520.2 527.5,518.3 527.8,515.8 528,510.3 528.3,508.4 528.6,510.2 528.8,513.2 529.1,512.3 529.3,516.3 529.6,515.7 529.8,509.8 530.1,512.7 530.4,511.1 530.6,510.7 530.9,513 531.1,514.7 531.4,514.2 531.7,514.5 531.9,512.1 532.2,514.1 532.4,518.2 532.7,516.9 533,514 533.2,518.6 533.5,519.3 533.7,516.3 534,517.6 534.3,516.2 534.5,514.4 534.8,519.6 535,517.1 535.3,517.7 535.6,516.1 535.8,521.2 536.1,520.9 536.3,517.7 536.6,519.3 536.8,520.1 537.1,521.8 537.4,518.1 537.6,523.2 537.9,519.2 538.1,521.7 538.4,521.7 538.7,524.3 538.9,524.4 539.2,520.3 539.4,524.1 539.7,522.9 540,518.8 540.2,524.9 540.5,520.7 540.7,522 541,524.2 541.3,523.1 541.5,519.8 541.8,522.5 542,521.7 542.3,525.3 542.6,524.2 542.8,524.4 543.1,521.8 543.3,520.7 543.6,518.9 543.8,521.6 544.1,519.3 544.4,522 544.6,521.4 544.9,525 545.1,520.9 545.4,524.6 545.7,521 545.9,520.7 546.2,525 546.4,526.4 546.7,525.7 547,527.5 547.2,524.6 547.5,519.6 547.7,524.7 548,519.1 548.3,524.8 548.5,517.4 548.8,523.7 549,522.1 549.3,522.3 549.6,520.2 549.8,520.4 550.1,518.5 550.3,522.1 550.6,517 550.8,518.6 551.1,516.3 551.4,517.5 551.6,521.7 551.9,516 552.1,518.2 552.4,515.8 552.7,515.4 552.9,521.4 553.2,516.7 553.4,514.2 553.7,520.4 554,515.7 554.2,516.2 554.5,517.9 554.7,517.6 555,519.4 555.3,518.8 555.5,520.3 555.8,516.2 556,515.6 556.3,520.5 556.6,518.3 556.8,518.4 557.1,515.5 557.3,515.8 557.6,520.9 557.8,518 558.1,518.3 558.4,521 558.6,518 558.9,517.4 559.1,519 559.4,517.3 559.7,518 559.9,515.9 560.2,517.5 560.4,516.1 560.7,520.3 561,518.8 561.2,517.7 561.5,517.8 561.7,516.9 562,519.8 562.3,520.7 562.5,516.2 562.8,518.2 563,516.9 563.3,517.4 563.6,518.9 563.8,518.3 564.1,520.2 564.3,520.3 564.6,516.5 564.8,517.2 565.1,520.7 565.4,518.2 565.6,519.6 565.9,518.9 566.1,516.9 566.4,520.7 566.7,519.8 566.9,516.8 567.2,519 567.4,518 567.7,518.3 568,517.3 568.2,518.9 568.5,519.4 568.7,519.9 569,521 569.3,516.9 569.5,520.8 569.8,519.1 570,518.3 570.3,518.5 570.6,517.3 570.8,518.1 571.1,517.2 571.3,519.7 571.6,518.7 571.9,520.3 572.1,520.2 572.4,518.5 572.6,520.5 572.9,518.1 573.1,520.8 573.4,517.4 573.7,517.7 573.9,520.6 574.2,518.6 574.4,521 574.7,518.6 575,521.2 575.2,518.6 575.5,517.3 575.7,521.2 576,521.7 576.3,516.9 576.5,516.7 576.8,519 577,520.9 577.3,521.4 577.6,517.6 577.8,521.6 578.1,523.2 578.3,516.2 578.6,516.6 578.9,518.1 579.1,531 579.4,537.5 579.6,517.8 579.9,527 580.1,515.3 580.4,521.9 580.7,516.3 580.9,514.2 581.2,518.4 581.4,515.7 581.7,516.6 582,519 582.2,523 582.5,517.6 582.7,520.6 583,518.5 583.3,520.1 583.5,527 583.8,524.9 584,523.1 584.3,524.4 584.6,522.3 584.8,526.8 585.1,522.7 585.3,525.8 585.6,524 585.9,523 586.1,523.2 586.4,525.5 586.6,523.2 586.9,528.3 587.1,525.2 587.4,527.2 587.7,523.2 587.9,525.3 588.2,524.5 588.4,522.3 588.7,525.7 589,523.5 589.2,523.4 589.5,521.8 589.7,520.7 590,519.9 590.3,522.7 590.5,518.6 590.8,521.4 591,517.7 591.3,518.7 591.6,519.5 591.8,517.1 592.1,520.7 592.3,516.7 592.6,516.3 592.9,515 593.1,520.8 593.4,519.2 593.6,516.3 593.9,521.3 594.1,519.2 594.4,519.2 594.7,520.4 594.9,518.4 595.2,517.6 595.4,520.1 595.7,518.6 596,518.5 596.2,521.3 596.5,522.3 596.7,521.9 597,520.6 597.3,520.2 597.5,521.8 597.8,519 598,518.9 598.3,519.6 598.6,519.1 598.8,521 599.1,519.5 599.3,520.8 599.6,520.4 599.9,521.6 600.1,520.7 600.4,520.6 600.6,521.4 600.9,518.5 601.1,519.7 601.4,518.6 601.7,518.7 601.9,522.1 602.2,521.2 602.4,520.5 602.7,520.3 603,519.5 603.2,517.5 603.5,520.7 603.7,518.8 604,522.4 604.3,519.5 604.5,522.7 604.8,520.3 605,519.7 605.3,520.1 605.6,519 605.8,522 606.1,521.5 606.3,522.4 606.6,523.3 606.9,518.6 607.1,519.5 607.4,523.3 607.6,519.1 607.9,523.1 608.1,520.9 608.4,523.3 608.7,521 608.9,520.6 609.2,519.6 609.4,520.4 609.7,520.8 610,519.8 610.2,522.5 610.5,520 610.7,521.5 611,519.9 611.3,521.9 611.5,521.1 611.8,522.5 612,524.4 612.3,523.7 612.6,523.4 612.8,520.6 613.1,524.6 613.3,524.2 613.6,521.5 613.9,522 614.1,521.8 614.4,522 614.6,521.7 614.9,523.6 615.1,525.4 615.4,524.1 615.7,526.2 615.9,524.8 616.2,524.7 616.4,522.8 616.7,525.2 617,525.8 617.2,524.6 617.5,528 617.7,528.3 618,526 618.3,525.1 618.5,529.1 618.8,524 619,527.8 619.3,525.5 619.6,522.3 619.8,523.8 620.1,526.2 620.3,521.4 620.6,524.8 620.9,519.2 621.1,521.3 621.4,523.2 621.6,520.7 621.9,518.5 622.1,520.7 622.4,520.1 622.7,518.7 622.9,517.6 623.2,519.3 623.4,517.6 623.7,518.3 624,521.4 624.2,518 624.5,521.7 624.7,522.2 625,522 625.3,516.8 625.5,522.2 625.8,518.5 626,516 626.3,515.2 626.6,520.7 626.8,518.9 627.1,519 627.3,517.6 627.6,514.6 627.9,513.1 628.1,512.3 628.4,520 628.6,518 628.9,515.8 629.1,510.9 629.4,514.9 629.7,517.6 629.9,517.6 630.2,514.7 630.4,522.2 630.7,516.7 631,517.3 631.2,521.7 631.5,520.9 631.7,519.9 632,520.4 632.3,520 632.5,524.1 632.8,523.9 633,523.8 633.3,525.6 633.6,521.5 633.8,521.3 634.1,526.2 634.3,521.8 634.6,522 634.9,523.3 635.1,525.8 635.4,524.9 635.6,522.2 635.9,526.5 636.2,523.5 636.4,527.2 636.7,527.4 636.9,527.5 637.2,523 637.4,524.5 637.7,523.6 638,524 638.2,524.8 638.5,518.5 638.7,522.7 639,522.1 639.3,520.6 639.5,523.4 639.8,515.9 640,518.6 640.3,525.1 640.6,525 640.8,519 641.1,520 641.3,523.9 641.6,526.2 641.9,525.8 642.1,525.5 642.4,527.4 642.6,528.3 642.9,527.3 643.2,522.6 643.4,522.5 643.7,527 643.9,525.6 644.2,521.6 644.4,520 644.7,521.3 645,521.2 645.2,524.2 645.5,524.1 645.7,520.3 646,520.9 646.3,519 646.5,522.6 646.8,519.4 647,517.7 647.3,523.2 647.6,515.9 647.8,523.8 648.1,523.7 648.3,520 648.6,520.9 648.9,519.9 649.1,522.5 649.4,519.2 649.6,518.6 649.9,517.8 650.2,520.8 650.4,522.4 650.7,522.8 650.9,520.4 651.2,519.3 651.4,522.8 651.7,523.3 652,523.3 652.2,522.5 652.5,519.5 652.7,522.8 653,519.6 653.3,520.7 653.5,523.4 653.8,523.6 654,523.6 654.3,521.6 654.6,521.9 654.8,523.3 655.1,522.4 655.3,520.9 655.6,520.2 655.9,523.7 656.1,521.1 656.4,523.2 656.6,521.9 656.9,520.1 657.2,521.4 657.4,523.6 657.7,520.4 657.9,524.2 658.2,523.9 658.4,523.1 658.7,522.4 659,524 659.2,521.2 659.5,521 659.7,521 660,522.7 660.3,522.8 660.5,525.2 660.8,521.8 661,522 661.3,525.5 661.6,523.9 661.8,525 662.1,521.7 662.3,525.3 662.6,522.9 662.9,524.6 663.1,522.4 663.4,524.3 663.6,526 663.9,522.3 664.2,523.6 664.4,523.4 664.7,526 664.9,525 665.2,524.8 665.4,522.9 665.7,523 666,526.7 666.2,526.7 666.5,524.1 666.7,524.4 667,527.3 667.3,526.4 667.5,526.4 667.8,525.4 668,526.9 668.3,526.2 668.6,527.8 668.8,524.6 669.1,525.6 669.3,527.4 669.6,524.8 669.9,528.4 670.1,527.8 670.4,525.5 670.6,528.2 670.9,527.6 671.2,525.8 671.4,525.8 671.7,528.9 671.9,526.8 672.2,527.4 672.4,529.5 672.7,527.3 673,527.2 673.2,527.7 673.5,530.3 673.7,527.5 674,529 674.3,528.3 674.5,527.8 674.8,530.5 675,528.1 675.3,529.1 675.6,529.3 675.8,529.1 676.1,531.8 676.3,529.5 676.6,529.2 676.9,532.5 677.1,529.7 677.4,532.1 677.6,529.7 677.9,530 678.2,531.7 678.4,530.1 678.7,530.7 678.9,530.5 679.2,532.2 679.4,533.2 679.7,532.7 680,531.2 680.2,531.8 680.5,533.7 680.7,531.4 681,531.5 681.3,533.9 681.5,533 681.8,532.5 682,534.1 682.3,532 682.6,532.2 682.8,533.3 683.1,532.6 683.3,533 683.6,532.5 683.9,532.2 684.1,531.8 684.4,530.3 684.6,529.6 684.9,530.7 685.2,531.6 685.4,530.1 685.7,530.5 685.9,528.3 686.2,531 686.4,530.9 686.7,530.4 687,530.7 687.2,529.3 687.5,528.7 687.7,529.6 688,528.5 688.3,528.5 688.5,529.3 688.8,530.4 689,527.9 689.3,527.3 689.6,530.2 689.8,528.2 690.1,527.3 690.3,528.4 690.6,529 690.9,529.7 691.1,527 691.4,527.6 691.6,527 691.9,528 692.2,526.9 692.4,526.7 692.7,527.4 692.9,527.4 693.2,529 693.4,529 693.7,527.8 694,527.5 694.2,527.8 694.5,530 694.7,530 695,527.9 695.3,530.1 695.5,527.6 695.8,530.9 696,529.5 696.3,529.9 696.6,528.4 696.8,528.1 697.1,528.7 697.3,531.1 697.6,530.4 697.9,531.1 698.1,531.2 698.4,528.8 698.6,529.1 698.9,530.8 699.2,531.6 699.4,531.8 699.7,529.4 699.9,530.2 700.2,530 700.5,530.3 700.7,530.6 701,531.1 701.2,530.2 701.5,531.5 701.7,532.5 702,530.2 702.3,531.4 702.5,531.3 702.8,532.9 703,531 703.3,532.9 703.6,533.3 703.8,531.5 704.1,531.4 704.3,532.9 704.6,530.7 704.9,532.7 705.1,532.4 705.4,531 705.6,531.1 705.9,530 706.2,532.1 706.4,530.4 706.7,530.1 706.9,530.7 707.2,531.6 707.5,529.7 707.7,529.8 708,531.6 708.2,529.6 708.5,529.9 708.7,530 709,529.7 709.3,529.4 709.5,529 709.8,530.9 710,529.3 710.3,528.8 710.6,529.9 710.8,530.7 711.1,530.5 711.3,530.2 711.6,529.8 711.9,528.7 712.1,529.1 712.4,529.2 712.6,530.2 712.9,530.4 713.2,528.9 713.4,527.8 713.7,529.9 713.9,528.7 714.2,528.2 714.5,528.1 714.7,528 715,527.4 715.2,528.2 715.5,530.1 715.7,527.7 716,528.6 716.3,528.6 716.5,529.9 716.8,526.7 717,528.4 717.3,528.2 717.6,528.2 717.8,528.1 718.1,530.1 718.3,528.2 718.6,528.4 718.9,528.9 719.1,528.7 719.4,528.9 719.6,527.2 719.9,527.2 720.2,529 720.4,530.3 720.7,529.4 720.9,530.1 721.2,529.1 721.5,528.6 721.7,529.1 722,529.2 722.2,530.5 722.5,530.5 722.7,530.2 723,530.4 723.3,527.6 723.5,528.6 723.8,529.7 724,527.4 724.3,530.2 724.6,528.7 724.8,529.6 725.1,529.4 725.3,530.8 725.6,527.9 725.9,527.5 726.1,528.6 726.4,527.3 726.6,528.2 726.9,528 727.2,527.7 727.4,527.7 727.7,529.6 727.9,529.1 728.2,528.7 728.5,527.4 728.7,527.2 729,528.9 729.2,527.9 729.5,528.5 729.7,529.4 730,527 730.3,528.2 730.5,526.5 730.8,526.3 731,528.6 731.3,526.1 731.6,528.2 731.8,529.2 732.1,526.1 732.3,525.1 732.6,528.8 732.9,524.2 733.1,525 733.4,526.4 733.6,525.2 733.9,525.4 734.2,525.9 734.4,527.5 734.7,528.9 734.9,531.5 735.2,532.6 735.5,530.6 735.7,527.8 736,534.1 736.2,533.3 736.5,532.7 736.7,529 737,529.4 737.3,531.1 737.5,533.5 737.8,530.9 738,531.6 738.3,528.5 738.6,528.4 738.8,530.3 739.1,532.5 739.3,531 739.6,528.8 739.9,531.2 740.1,531.2 740.4,529.6 740.6,529 740.9,530.9 741.2,530.1 741.4,531.6 741.7,529.2 741.9,529.8 742.2,529.3 742.5,530.6 742.7,531.6 743,530.3 743.2,532.2 743.5,530.1 743.7,532.6 744,530.8 744.3,530.7 744.5,532.2 744.8,530.3 745,532.7 745.3,530 745.6,532.6 745.8,533 746.1,530.2 746.3,533 746.6,530.7 746.9,533 747.1,530.4 747.4,530.9 747.6,532.9 747.9,533.7 748.2,531.6 748.4,531.9 748.7,531.8 748.9,531.9 749.2,533.2 749.5,533.9 749.7,532.4 750,532.5 750.2,534.1 750.5,531.9 750.7,534 751,532.5 751.3,534 751.5,531.4 751.8,533.9 752,533.2 752.3,532.6 752.6,533.2 752.8,531.9 753.1,532.3 753.3,531.7 753.6,532.5 753.9,530.9 754.1,532.2 754.4,531.1 754.6,533.3 754.9,531 755.2,531.9 755.4,533.1 755.7,533 755.9,532 756.2,532.8 756.5,531.4 756.7,531.2 757,532.7 757.2,526.6 757.5,527.9 757.7,525.1 758,520.9 758.3,529.8 758.5,524.7 758.8,526.3 759,528.8 759.3,529.2 759.6,530.2 759.8,531.4 760.1,530.3 760.3,531.5 760.6,531.7 760.9,529.7 761.1,532.4 761.4,531.5 761.6,532.5 761.9,529.3 762.2,529.5 762.4,530.8 762.7,528.9 762.9,531.2 763.2,528.7 763.5,532.4 763.7,531.5 764,528.7 764.2,529.2 764.5,529.7 764.8,530.4 765,531.5 765.3,530.8 765.5,529.1 765.8,532.4 766,531.1 766.3,527.9 766.6,527.5 766.8,528.2 767.1,532.6 767.3,528.1 767.6,531.4 767.9,528.8 768.1,532.9 768.4,529.8 768.6,529.2 768.9,533.2 769.2,531.2 769.4,532.9 769.7,531.4 769.9,532.5 770.2,533.2 770.5,532.5 770.7,533.7 771,533.3 771.2,531.8 771.5,531.8 771.8,532 772,534 772.3,534.1 772.5,533.8 772.8,531.8 773,532.8 773.3,533 773.6,532.9 773.8,531.7 774.1,531.7 774.3,532.2 774.6,532.6 774.9,534.1 775.1,532 775.4,534 775.6,533 775.9,532.1 776.2,533 776.4,533.2 776.7,534 776.9,531.6 777.2,531.3 777.5,532.4 777.7,531.5 778,532 778.2,530.5 778.5,528.5 778.8,528.6 779,531.5 779.3,529.5 779.5,531 779.8,527.9 780,528.1 780.3,528.2 780.6,528.7 780.8,529.6 781.1,531.3 781.3,527.7 781.6,529.4 781.9,528.3 782.1,529.9 782.4,530.2 782.6,531 782.9,528.4 783.2,529.4 783.4,531 783.7,529 783.9,527.6 784.2,530.3 784.5,530.3 784.7,527.9 785,527.7 785.2,527.7 785.5,528.8 785.8,529.3 786,528.2 786.3,528 786.5,531.1 786.8,530.5 787,530.8 787.3,529.8 787.6,528.8 787.8,531.1 788.1,531.4 788.3,528.5 788.6,528.7 788.9,530.3 789.1,529.6 789.4,530.6 789.6,528.8 789.9,531.3 790.2,531.5 790.4,531.5 790.7,530.7 790.9,529.1 791.2,531.9 791.5,532.3 791.7,532.1 792,529.9 792.2,530.6 792.5,530.4 792.8,531.4 793,532.7 793.3,531.5 793.5,529.6 793.8,531.4 794,529.9 794.3,529.5 794.6,530.8 794.8,532.1 795.1,531.9 795.3,531.5 795.6,531.7 795.9,531.2 796.1,533.6 796.4,533.3 796.6,533.5 796.9,531.7 797.2,532.3 797.4,530.8 797.7,532 797.9,533.2 798.2,533.4 798.5,534.2 798.7,533.2 799,530.7 799.2,531.5 799.5,533.8 799.8,533.6 800,531.3 800.3,532.2 800.5,531.1 800.8,535.3 801,535 801.3,532.8 801.6,535.2 801.8,535.8 802.1,534.9 802.3,533.7 802.6,533.9 802.9,528.8 803.1,529.2 803.4,527.9 803.6,529.3 803.9,526.5 804.2,528.9 804.4,528.4 804.7,525.4 804.9,524.2 805.2,524.7 805.5,524.8 805.7,525.4 806,525.6 806.2,526.2 806.5,528.4 806.8,525.2 807,525.6 807.3,531.4 807.5,527 807.8,529.6 808,526 808.3,529.1 808.6,526.6 808.8,532.7 809.1,528.7 809.3,531.4 809.6,528.7 809.9,532.4 810.1,532.9 810.4,535.5 810.6,535.1 810.9,530.8 811.2,537.5 811.4,533.5 811.7,529.4 811.9,531.1 812.2,529.9 812.5,530.5 812.7,528 813,528 813.2,530.5 813.5,531.9 813.8,531 814,530.5 814.3,528.9 814.5,525.7 814.8,529.2 815,525 815.3,530.8 815.6,526.6 815.8,528.6 816.1,530.9 816.3,530.4 816.6,530.7 816.9,526.7 817.1,525.8 817.4,530.4 817.6,526.7 817.9,526.7 818.2,525.8 818.4,527.9 818.7,531.3 818.9,527 819.2,526.1 819.5,529.6 819.7,526.5 820,526.8 820.2,531.1 820.5,526.9 820.8,530.5 821,529.1 821.3,527.1 821.5,530.4 821.8,527.1 822,526.9 822.3,531.7 822.6,530.7 822.8,527.6 823.1,530.7 823.3,528.5 823.6,527.2 823.9,528.3 824.1,531.9 824.4,527.2 824.6,531.9 824.9,532 825.2,531.3 825.4,532 825.7,530.4 825.9,532.2 826.2,527.6 826.5,527.5 826.7,531.1 827,531.9 827.2,529.1 827.5,527.4 827.8,531.4 828,528.3 828.3,527.6 828.5,531.3 828.8,529.2 829.1,530.4 829.3,532.4 829.6,528.1 829.8,532.9 830.1,532.8 830.3,528.9 830.6,528.7 830.9,528.9 831.1,531.9 831.4,532.4 831.6,532.3 831.9,530.3 832.2,531.3 832.4,529.1 832.7,530.9 832.9,533.8 833.2,529.7 833.5,529.3 833.7,529.3 834,529.5 834.2,532 834.5,534.1 834.8,531.7 835,528.1 835.3,532.3 835.5,530.7 835.8,529.5 836.1,531.8 836.3,529.1 836.6,527.5 836.8,532.4 837.1,528.4 837.3,530.9 837.6,531.3 837.9,532 838.1,529.1 838.4,533.1 838.6,531.9 838.9,530.6 839.2,532.6 839.4,532 839.7,529.9 839.9,530 840.2,531.8 840.5,532.9 840.7,532.4 841,534.6 841.2,530.7 841.5,532.2 841.8,534.7 842,533 842.3,531.5 842.5,531.7 842.8,533.2 843.1,531.5 843.3,533 843.6,532 843.8,534.8 844.1,534.5 844.3,535.4 844.6,535.1 844.9,532.6 845.1,533.2 845.4,532.4 845.6,533 845.9,532.6 846.2,532.8 846.4,532.7 846.7,532.9 846.9,536.2 847.2,534.4 847.5,534.8 847.7,533.6 848,534 848.2,536.3 848.5,536.6 848.8,535.3 849,533.9 849.3,534 849.5,536.2 849.8,533.4 850.1,534 850.3,535.8 850.6,535.6 850.8,536.1 851.1,533 851.3,534.6 851.6,534.9 851.9,534.5 852.1,532.7 852.4,536 852.6,532.7 852.9,535 853.2,532.7 853.4,533.3 853.7,534.2 853.9,532.2 854.2,535 854.5,532.6 854.7,532.3 855,534.8 855.2,534.8 855.5,532.2 855.8,535.3 856,534.3 856.3,534.8 856.5,535.2 856.8,532.1 857.1,532.3 857.3,533.2 857.6,532.7 857.8,533.2 858.1,529.6 858.3,535.2 858.6,532.7 858.9,534.8 859.1,531.7 859.4,533.1 859.6,531.2 859.9,526.7 860.2,527.7 860.4,535.1 860.7,530.3 860.9,529.5 861.2,530 861.5,532.2 861.7,534.1 862,531.8 862.2,534.1 862.5,534.9 862.8,534.7 863,535.9 863.3,536.2 863.5,536.6 863.8,533.1 864.1,532.6 864.3,532.2 864.6,535.3 864.8,532.9 865.1,535.8 865.3,532.7 865.6,534.2 865.9,531.5 866.1,532.6 866.4,532.4 866.6,533.1 866.9,535.5 867.2,535.5 867.4,534.6 867.7,526.3 867.9,528.4 868.2,527.9 868.5,489.1 868.7,523.4 869,504.1 869.2,484.4 869.5,429.4 869.8,417.3 870,315.5 870.3,398.6 870.5,220 870.8,350.7 871.1,325.5 871.3,333.3 871.6,373.1 871.8,374.6 872.1,371.6 872.3,373.6 872.6,380 872.9,457.2 873.1,454 873.4,458.4 873.6,468.3 873.9,494.5 874.2,505.2 874.4,507.7 874.7,506.1 874.9,513.8 875.2,507.5 875.5,510.8 875.7,515.6 876,514.1 876.2,510.1 876.5,515.7 876.8,518.3 877,507.3 877.3,516.2 877.5,520 877.8,514.8 878.1,514.8 878.3,517.5 878.6,520.8 878.8,504.9 879.1,508.2 879.3,512.1 879.6,514 879.9,515.7 880.1,516.9 880.4,501.7 880.6,503.7 880.9,506.2 881.2,510.6 881.4,517.6 881.7,511.5 881.9,514.2 882.2,514.4 882.5,519 882.7,518.2 883,523.6 883.2,523.9 883.5,519.5 883.8,522.2 884,523.3 884.3,519.8 884.5,519.7 884.8,522 885.1,520.3 885.3,521.2 885.6,522.9 885.8,525 886.1,523.5 886.4,524.5 886.6,523.7 886.9,522.5 887.1,522.9 887.4,525.2 887.6,521.4 887.9,523.3 888.2,521.2 888.4,521.4 888.7,521.3 888.9,520.9 889.2,525.8 889.5,522.2 889.7,523.8 890,521.5 890.2,526.8 890.5,522.1 890.8,523.8 891,523.4 891.3,526.7 891.5,520.9 891.8,521.5 892.1,526.7 892.3,527.5 892.6,527 892.8,527 893.1,528.9 893.4,529.8 893.6,530.2 893.9,525.8 894.1,529.5 894.4,528 894.6,529.4 894.9,527.8 895.2,528.5 895.4,530.2 895.7,528.4 895.9,531.6 896.2,528.2 896.5,532.5 896.7,532 897,532.7 897.2,528.1 897.5,531.7 897.8,529.9 898,530.4 898.3,532.8 898.5,532.9 898.8,532.8 899.1,530.2 899.3,529.3 899.6,532.4 899.8,530.4 900.1,528.3 900.4,533.3 900.6,531 900.9,532.4 901.1,529.4 901.4,527.2 901.6,528.8 901.9,530.1 902.2,526 902.4,529 902.7,529.2 902.9,530.3 903.2,524.4 903.5,523.7 903.7,526.8 904,524.6 904.2,527.2 904.5,520.2 904.8,523.6 905,522 905.3,518.3 905.5,517.4 905.8,514.2 906.1,522.2 906.3,518.6 906.6,514.7 906.8,522.6 907.1,520.5 907.4,515.5 907.6,516.8 907.9,523.4 908.1,516.6 908.4,519.2 908.6,523.6 908.9,515.9 909.2,522.1 909.4,516.2 909.7,524 909.9,519.3 910.2,517.5 910.5,519.2 910.7,517.8 911,521.5 911.2,524.2 911.5,521.8 911.8,524.5 912,522.3 912.3,522.5 912.5,521.9 912.8,523.2 913.1,524.9 913.3,523.7 913.6,522.6 913.8,525.1 914.1,523.4 914.4,525.5 914.6,521.9 914.9,523.3 915.1,525.4 915.4,525.9 915.6,521.8 915.9,525.2 916.2,524 916.4,521.9 916.7,523.2 916.9,524.7 917.2,523.2 917.5,523.8 917.7,523.8 918,522.7 918.2,523.2 918.5,527.5 918.8,525 919,514.8 919.3,511.9 919.5,511.8 919.8,521.2 920.1,503.4 920.3,514.5 920.6,520.6 920.8,513.3 921.1,512.4 921.4,512.9 921.6,524.5 921.9,517.2 922.1,518.5 922.4,526.5 922.6,521 922.9,527.7 923.2,521.5 923.4,524.9 923.7,526.4 923.9,530.3 924.2,530.6 924.5,529.6 924.7,524.8 925,528.7 925.2,532.9 925.5,529.6 925.8,532.5 926,534.1 926.3,527.5 926.5,524.3 926.8,529.3 927.1,524.6 927.3,526.4 927.6,532.6 927.8,529.9 928.1,531.6 928.4,531.5 928.6,525.1 928.9,524.4 929.1,530.7 929.4,524.9 929.6,530.4 929.9,524.4 930.2,525.9 930.4,526.5 930.7,524.5 930.9,524.4 931.2,527.9 931.5,526 931.7,525 932,524.4 932.2,530.5 932.5,526 932.8,530.6 933,527.2 933.3,524.9 933.5,530.8 933.8,527.6 934.1,530.1 934.3,530.2 934.6,526.5 934.8,529.5 935.1,527.2 935.4,527.9 935.6,530.7 935.9,528.9 936.1,525.6 936.4,525.5 936.6,526.8 936.9,529.6 937.2,527.3 937.4,530.7 937.7,530.5 937.9,525.9 938.2,527.8 938.5,525.9 938.7,530.4 939,525.9 939.2,528.8 939.5,526.5 939.8,530 940,526.1 940.3,528.5 940.5,526 940.8,529.9 941.1,527.7 941.3,529.4 941.6,528 941.8,528 942.1,529.3 942.4,529.6 942.6,525 942.9,525.2 943.1,528.6 943.4,526.9 943.6,525.7 943.9,528.5 944.2,529.3 944.4,525.4 944.7,528.6 944.9,529.2 945.2,526 945.5,528.4 945.7,525.1 946,525.1 946.2,526.1 946.5,526.6 946.8,528 947,529 947.3,527.8 947.5,524 947.8,525.3 948.1,528.5 948.3,525.9 948.6,527.7 948.8,528.4 949.1,526.7 949.4,527.2 949.6,525.8 949.9,526.5 950.1,525 950.4,524.7 950.7,524.9 950.9,525.3 951.2,523.1 951.4,522.7 951.7,524.2 951.9,522.9 952.2,525.8 952.5,525.3 952.7,521.7 953,522.4 953.2,517.9 953.5,523.8 953.8,516.8 954,517.5 954.3,515.9 954.5,520.9 954.8,516.3 955.1,512.5 955.3,515.1 955.6,517.1 955.8,520.2 956.1,515.9 956.4,519.3 956.6,520.1 956.9,514.4 957.1,519.4 957.4,521.3 957.7,515.8 957.9,520.7 958.2,515.3 958.4,518 958.7,518.7 958.9,519.4 959.2,519.2 959.5,521.6 959.7,521.6 960,520.2 960.2,515.4 960.5,521 960.8,519.5 961,518.8 961.3,515.6 961.5,517.3 961.8,521.7 962.1,520.2 962.3,514.9 962.6,518 962.8,519.3 963.1,516.5 963.4,514.2 963.6,522.6 963.9,523.9 964.1,524.8 964.4,524.4 964.7,517.1 964.9,523 965.2,526.3 965.4,518.9 965.7,518.9 965.9,519.4 966.2,524.4 966.5,528.5 966.7,521.6 967,529.1 967.2,519.4 967.5,516.7 967.8,515.7 968,515.8 968.3,520.7 968.5,516.2 968.8,517.1 969.1,502.5 969.3,508 969.6,508.7 969.8,514.2 970.1,512.2 970.4,519.8 970.6,509.7 970.9,510.7 971.1,511.1 971.4,511.8 971.7,519.5 971.9,521.5 972.2,515.5 972.4,513 972.7,514.1 972.9,522 973.2,521.8 973.5,518.3 973.7,515.2 974,516.8 974.2,515.1 974.5,519.5 974.8,521.4 975,518.6 975.3,516.8 975.5,515.4 975.8,516.9 976.1,517.9 976.3,522.2 976.6,522.4 976.8,521.5 977.1,523.3 977.4,517.1 977.6,517 977.9,523.5 978.1,520.4 978.4,518.8 978.7,522.1 978.9,524 979.2,524.1 979.4,524.1" fill="none" stroke="#C49C63" stroke-width="1.7" stroke-linejoin="round" stroke-linecap="round"/>
</svg>
<div class="h" style="left:951px;top:58.8px;font-size:9px;letter-spacing:0.6px;font-weight:bold;color:#0B4DA0">GF SECURITIES</div>
<div class="yl" style="top:193.5px">80,000</div>
<div class="yl" style="top:235.4px">70,000</div>
<div class="yl" style="top:277.3px">60,000</div>
<div class="yl" style="top:319.2px">50,000</div>
<div class="yl" style="top:361.1px">40,000</div>
<div class="yl" style="top:403.0px">30,000</div>
<div class="yl" style="top:444.9px">20,000</div>
<div class="yl" style="top:486.8px">10,000</div>
<div class="yl" style="top:528.7px">0</div>
<div class="yr" style="top:193.9px">300000</div>
<div class="yr" style="top:249.8px">250000</div>
<div class="yr" style="top:305.6px">200000</div>
<div class="yr" style="top:361.5px">150000</div>
<div class="yr" style="top:417.4px">100000</div>
<div class="yr" style="top:473.2px">50000</div>
<div class="yr" style="top:529.1px">0</div>
<div class="xl" style="left:56.6px">2016-08</div>
<div class="xl" style="left:151.3px">2017-08</div>
<div class="xl" style="left:246.0px">2018-08</div>
<div class="xl" style="left:340.7px">2019-08</div>
<div class="xl" style="left:435.4px">2020-08</div>
<div class="xl" style="left:530.1px">2021-08</div>
<div class="xl" style="left:624.8px">2022-08</div>
<div class="xl" style="left:719.5px">2023-08</div>
<div class="xl" style="left:814.2px">2024-08</div>
<div class="xl" style="left:908.9px">2025-08</div>
<div class="an" style="left:117.5px;top:353.1px">2016.11</div>
<div class="an" style="left:334.2px;top:356.7px">2019.2</div>
<div class="an" style="left:456.3px;top:389.7px">2020.7</div>
<div class="an" style="left:859.2px;top:195.7px">2024.10</div>
<div class="an" style="left:927.8px;top:458.0px">2025.8</div>
<div id="pg">61</div>
</body></html>
